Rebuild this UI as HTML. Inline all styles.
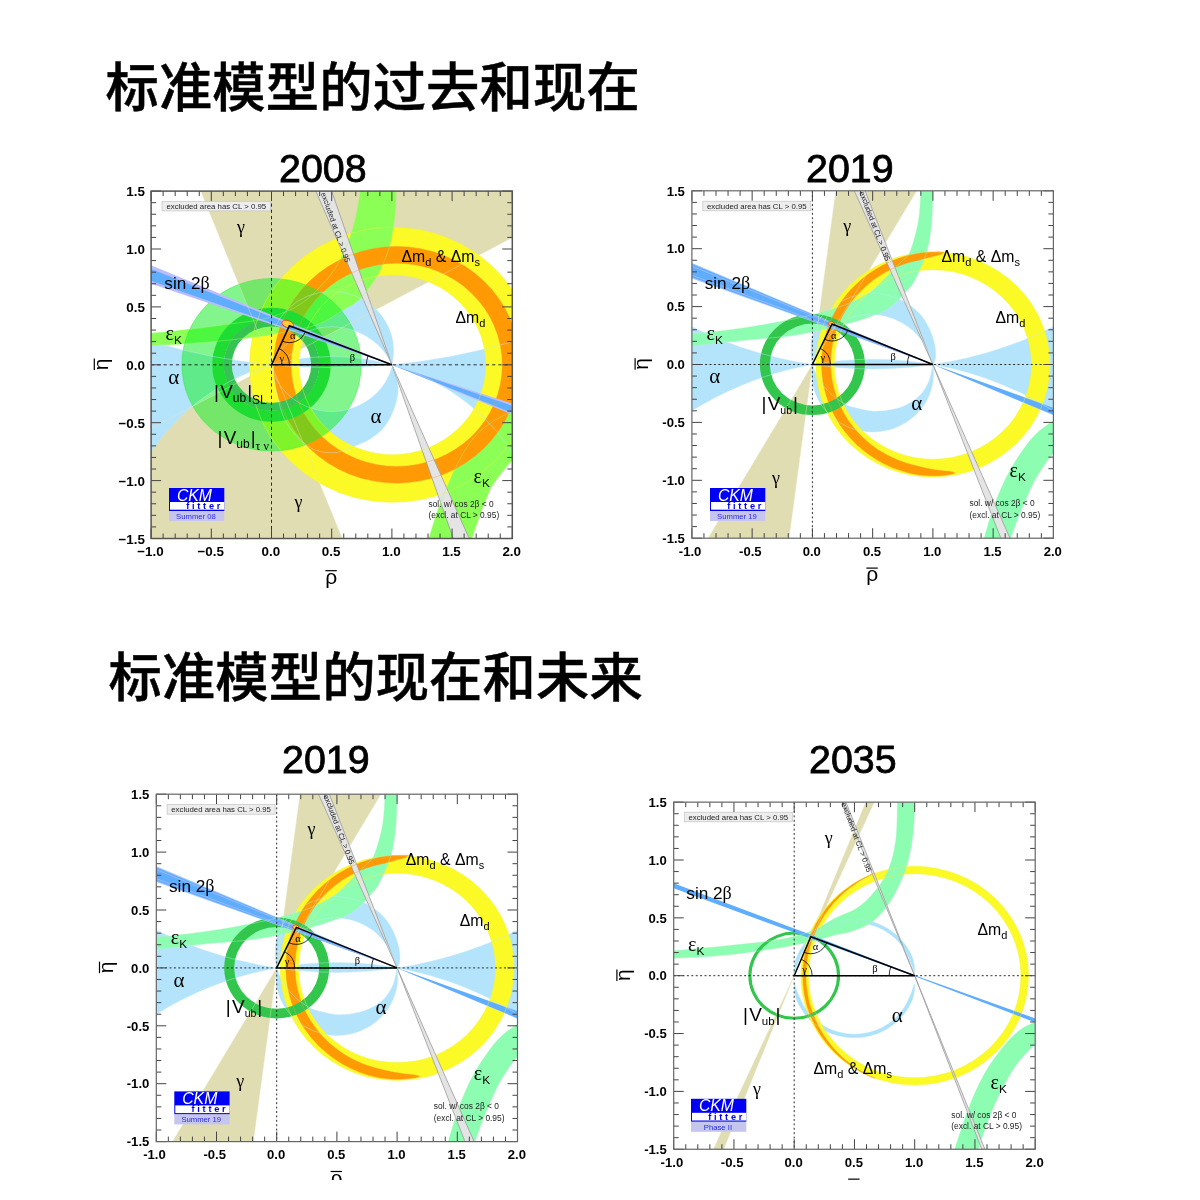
<!DOCTYPE html>
<html lang="zh-CN">
<head>
<meta charset="utf-8">
<title>标准模型的过去和现在</title>
<style>
html,body{margin:0;padding:0;background:#fff;}
body{width:1200px;height:1200px;position:relative;overflow:hidden;font-family:"Liberation Sans", "Noto Sans CJK SC", sans-serif;}
h1{position:absolute;margin:0;font-family:"Liberation Sans", "Noto Sans CJK SC", sans-serif;font-weight:500;font-size:53.3px;line-height:1;color:#000;white-space:nowrap;letter-spacing:0.14px;-webkit-text-stroke:0.5px #000;}
.yr{position:absolute;margin:0;font-family:"Liberation Sans", "Noto Sans CJK SC", sans-serif;font-weight:400;font-size:39.4px;line-height:1;color:#000;white-space:nowrap;-webkit-text-stroke:0.8px #000;}
#clip{position:absolute;left:0;top:0;width:1200px;height:1180px;overflow:hidden;}
svg{position:absolute;left:0;top:0;}
svg{font-family:"Liberation Sans", "Noto Sans CJK SC", sans-serif;fill:#000;}
</style>
</head>
<body>
<div id="clip">
<h1 style="left:105.5px;top:61.5px;">标准模型的过去和现在</h1>
<h1 style="left:108.5px;top:652px;">标准模型的现在和未来</h1>
<div class="yr" style="left:279px;top:148.5px;">2008</div>
<div class="yr" style="left:806px;top:149px;">2019</div>
<div class="yr" style="left:282px;top:740px;">2019</div>
<div class="yr" style="left:809px;top:740px;">2035</div>
<svg width="1200" height="1180" viewBox="0 0 1200 1180">

<g id="p1">
<clipPath id="p1f"><rect x="-1" y="-1.5" width="3" height="3"/></clipPath>
<clipPath id="p1u"><rect x="-1" y="0" width="3" height="1.5"/></clipPath>
<clipPath id="p1d"><rect x="-1" y="-1.5" width="3" height="1.5"/></clipPath>
<g transform="translate(271.5,364.8) scale(120.4,-115.8)" clip-path="url(#p1f)">
<path d="M0,0L-0.704,1.8L3.276,1.8Z" fill="#e0ddb3"/>
<path d="M0,0L0.704,-1.8L-3.276,-1.8Z" fill="#e0ddb3"/>
<path d="M-1.2,-1.7H2.2V1.7H-1.2ZM-1.275,-1.703a1.775,1.775 0 1,0 3.55,0a1.775,1.775 0 1,0 -3.55,0ZM-4.624,5.1a5.124,5.124 0 1,0 10.249,0a5.124,5.124 0 1,0 -10.249,0Z" fill="#b4e4fb" fill-rule="evenodd"/>
<g clip-path="url(#p1u)"><path d="M-0.014,0.12a0.514,0.514 0 1,0 1.028,0a0.514,0.514 0 1,0 -1.028,0ZM-0.044,-0.215a0.544,0.544 0 1,0 1.089,0a0.544,0.544 0 1,0 -1.089,0Z" fill="#b4e4fb" fill-rule="evenodd"/></g>
<g clip-path="url(#p1d)"><path d="M1,0C1.006,-0.015 1.026,-0.054 1.035,-0.09C1.043,-0.126 1.051,-0.179 1.051,-0.218C1.051,-0.257 1.042,-0.294 1.034,-0.326C1.026,-0.358 1.017,-0.383 1.005,-0.412C0.993,-0.441 0.98,-0.471 0.963,-0.498C0.946,-0.525 0.925,-0.552 0.901,-0.576C0.877,-0.6 0.846,-0.623 0.818,-0.641C0.79,-0.659 0.763,-0.671 0.735,-0.684C0.707,-0.697 0.689,-0.707 0.65,-0.72C0.611,-0.733 0.558,-0.763 0.5,-0.76C0.442,-0.757 0.367,-0.752 0.3,-0.7C0.233,-0.648 0.15,-0.567 0.1,-0.45C0.05,-0.333 0.017,-0.075 0,0ZM-0.019,0.138a0.519,0.519 0 1,0 1.037,0a0.519,0.519 0 1,0 -1.037,0Z" fill="#b4e4fb" fill-rule="evenodd"/></g>
<path d="M-0.183,0a1.188,1.188 0 1,0 2.376,0a1.188,1.188 0 1,0 -2.376,0ZM0.229,0a0.776,0.776 0 1,0 1.552,0a0.776,0.776 0 1,0 -1.552,0Z" fill="#fbfa26" fill-rule="evenodd"/>
<path d="M-1.15,0.258C-1.125,0.26 -1.079,0.264 -1,0.272C-0.921,0.28 -0.786,0.293 -0.677,0.306C-0.568,0.319 -0.456,0.335 -0.345,0.352C-0.234,0.369 -0.111,0.38 -0.012,0.41C0.087,0.44 0.172,0.476 0.25,0.53C0.328,0.584 0.402,0.669 0.455,0.732C0.508,0.794 0.534,0.838 0.569,0.905C0.603,0.972 0.638,1.058 0.662,1.132C0.686,1.206 0.702,1.287 0.714,1.348C0.726,1.409 0.73,1.45 0.735,1.5C0.74,1.55 0.743,1.625 0.745,1.65L1.04,1.65C1.039,1.625 1.038,1.559 1.036,1.5C1.034,1.441 1.035,1.372 1.026,1.294C1.017,1.216 1.001,1.107 0.984,1.035C0.967,0.963 0.941,0.909 0.922,0.862C0.903,0.815 0.901,0.803 0.87,0.754C0.839,0.705 0.781,0.615 0.735,0.568C0.689,0.521 0.655,0.51 0.594,0.473C0.533,0.436 0.471,0.379 0.37,0.344C0.269,0.308 0.107,0.282 -0.012,0.26C-0.131,0.238 -0.234,0.227 -0.345,0.214C-0.456,0.201 -0.568,0.193 -0.677,0.185C-0.786,0.177 -0.921,0.172 -1,0.168C-1.079,0.164 -1.125,0.161 -1.15,0.16Z" fill="#8bff55"/>
<path d="M1.26,-1.65C1.268,-1.625 1.288,-1.559 1.306,-1.5C1.324,-1.441 1.349,-1.356 1.368,-1.297C1.387,-1.238 1.401,-1.196 1.42,-1.146C1.439,-1.096 1.466,-1.036 1.483,-0.995C1.5,-0.954 1.503,-0.941 1.524,-0.898C1.545,-0.855 1.576,-0.786 1.607,-0.736C1.638,-0.685 1.669,-0.638 1.711,-0.595C1.753,-0.552 1.809,-0.507 1.856,-0.477C1.903,-0.447 1.942,-0.431 1.991,-0.412C2.04,-0.392 2.123,-0.369 2.15,-0.36L2.15,-0.66C2.125,-0.687 2.042,-0.773 2,-0.822C1.958,-0.871 1.929,-0.909 1.898,-0.952C1.867,-0.995 1.843,-1.023 1.815,-1.081C1.787,-1.139 1.757,-1.227 1.732,-1.297C1.707,-1.367 1.683,-1.441 1.664,-1.5C1.645,-1.559 1.627,-1.625 1.62,-1.65Z" fill="#8bff55"/>
<path d="M0.018,0a1.022,1.022 0 1,0 2.044,0a1.022,1.022 0 1,0 -2.044,0ZM0.163,0a0.877,0.877 0 1,0 1.754,0a0.877,0.877 0 1,0 -1.754,0Z" fill="#ff9a05" fill-rule="evenodd"/>
<path d="M-0.745,0a0.745,0.745 0 1,0 1.49,0a0.745,0.745 0 1,0 -1.49,0ZM-0.49,0a0.49,0.49 0 1,0 0.98,0a0.49,0.49 0 1,0 -0.98,0Z" fill="#1cee2e" fill-rule="evenodd" fill-opacity="0.55" stroke="#2ceb3c" stroke-width="0.6" stroke-opacity="0.8" vector-effect="non-scaling-stroke"/>
<path d="M-0.492,0a0.492,0.492 0 1,0 0.984,0a0.492,0.492 0 1,0 -0.984,0ZM-0.395,0a0.395,0.395 0 1,0 0.79,0a0.395,0.395 0 1,0 -0.79,0Z" fill="#1fdc33" fill-rule="evenodd"/>
<path d="M-0.397,0a0.397,0.397 0 1,0 0.794,0a0.397,0.397 0 1,0 -0.794,0ZM-0.33,0a0.33,0.33 0 1,0 0.66,0a0.33,0.33 0 1,0 -0.66,0Z" fill="#35c451" fill-rule="evenodd"/>
<path d="M1,0L-1.2,0.945L-1.2,0.77Z" fill="#b9bcff"/>
<path d="M1,0L-1.2,0.91L-1.2,0.797Z" fill="#5fadff"/>
<path d="M1,0L2.2,-0.518L2.2,-0.402Z" fill="#b9bcff"/>
<path d="M1,0L2.2,-0.498L2.2,-0.426Z" fill="#5fadff"/>
<path d="M1,0L0.305,1.65L0.45,1.65ZM1,0L1.561,-1.65L1.706,-1.65Z" fill="#e4e4e4" stroke="#9a9a9a" stroke-width="0.8" vector-effect="non-scaling-stroke"/>
<ellipse cx="0.135" cy="0.352" rx="0.05" ry="0.03" transform="rotate(-20 0.135 0.352)" fill="#ffcf30" stroke="#f03a20" stroke-width="0.9" vector-effect="non-scaling-stroke"/>
<path d="M0,0L-0.704,1.8L3.276,1.8Z" fill="none" stroke="#e8e5bf" stroke-width="0.5" stroke-opacity="0.85" vector-effect="non-scaling-stroke"/>
<path d="M0,0L0.704,-1.8L-3.276,-1.8Z" fill="none" stroke="#e8e5bf" stroke-width="0.5" stroke-opacity="0.85" vector-effect="non-scaling-stroke"/>
<path d="M-1.2,-1.7H2.2V1.7H-1.2ZM-1.275,-1.703a1.775,1.775 0 1,0 3.55,0a1.775,1.775 0 1,0 -3.55,0ZM-4.624,5.1a5.124,5.124 0 1,0 10.249,0a5.124,5.124 0 1,0 -10.249,0Z" fill="none" stroke="#bfe9fc" stroke-width="0.5" stroke-opacity="0.85" vector-effect="non-scaling-stroke" fill-rule="evenodd"/>
<g clip-path="url(#p1u)"><path d="M-0.014,0.12a0.514,0.514 0 1,0 1.028,0a0.514,0.514 0 1,0 -1.028,0ZM-0.044,-0.215a0.544,0.544 0 1,0 1.089,0a0.544,0.544 0 1,0 -1.089,0Z" fill="none" stroke="#bfe9fc" stroke-width="0.5" stroke-opacity="0.85" vector-effect="non-scaling-stroke" fill-rule="evenodd"/></g>
<g clip-path="url(#p1d)"><path d="M1,0C1.006,-0.015 1.026,-0.054 1.035,-0.09C1.043,-0.126 1.051,-0.179 1.051,-0.218C1.051,-0.257 1.042,-0.294 1.034,-0.326C1.026,-0.358 1.017,-0.383 1.005,-0.412C0.993,-0.441 0.98,-0.471 0.963,-0.498C0.946,-0.525 0.925,-0.552 0.901,-0.576C0.877,-0.6 0.846,-0.623 0.818,-0.641C0.79,-0.659 0.763,-0.671 0.735,-0.684C0.707,-0.697 0.689,-0.707 0.65,-0.72C0.611,-0.733 0.558,-0.763 0.5,-0.76C0.442,-0.757 0.367,-0.752 0.3,-0.7C0.233,-0.648 0.15,-0.567 0.1,-0.45C0.05,-0.333 0.017,-0.075 0,0ZM-0.019,0.138a0.519,0.519 0 1,0 1.037,0a0.519,0.519 0 1,0 -1.037,0Z" fill="none" stroke="#bfe9fc" stroke-width="0.5" stroke-opacity="0.85" vector-effect="non-scaling-stroke" fill-rule="evenodd"/></g>
<path d="M-0.183,0a1.188,1.188 0 1,0 2.376,0a1.188,1.188 0 1,0 -2.376,0ZM0.229,0a0.776,0.776 0 1,0 1.552,0a0.776,0.776 0 1,0 -1.552,0Z" fill="none" stroke="#f4f43c" stroke-width="0.5" stroke-opacity="0.85" vector-effect="non-scaling-stroke" fill-rule="evenodd"/>
<path d="M-1.15,0.258C-1.125,0.26 -1.079,0.264 -1,0.272C-0.921,0.28 -0.786,0.293 -0.677,0.306C-0.568,0.319 -0.456,0.335 -0.345,0.352C-0.234,0.369 -0.111,0.38 -0.012,0.41C0.087,0.44 0.172,0.476 0.25,0.53C0.328,0.584 0.402,0.669 0.455,0.732C0.508,0.794 0.534,0.838 0.569,0.905C0.603,0.972 0.638,1.058 0.662,1.132C0.686,1.206 0.702,1.287 0.714,1.348C0.726,1.409 0.73,1.45 0.735,1.5C0.74,1.55 0.743,1.625 0.745,1.65L1.04,1.65C1.039,1.625 1.038,1.559 1.036,1.5C1.034,1.441 1.035,1.372 1.026,1.294C1.017,1.216 1.001,1.107 0.984,1.035C0.967,0.963 0.941,0.909 0.922,0.862C0.903,0.815 0.901,0.803 0.87,0.754C0.839,0.705 0.781,0.615 0.735,0.568C0.689,0.521 0.655,0.51 0.594,0.473C0.533,0.436 0.471,0.379 0.37,0.344C0.269,0.308 0.107,0.282 -0.012,0.26C-0.131,0.238 -0.234,0.227 -0.345,0.214C-0.456,0.201 -0.568,0.193 -0.677,0.185C-0.786,0.177 -0.921,0.172 -1,0.168C-1.079,0.164 -1.125,0.161 -1.15,0.16Z" fill="none" stroke="#a4f76e" stroke-width="0.5" stroke-opacity="0.85" vector-effect="non-scaling-stroke"/>
<path d="M1.26,-1.65C1.268,-1.625 1.288,-1.559 1.306,-1.5C1.324,-1.441 1.349,-1.356 1.368,-1.297C1.387,-1.238 1.401,-1.196 1.42,-1.146C1.439,-1.096 1.466,-1.036 1.483,-0.995C1.5,-0.954 1.503,-0.941 1.524,-0.898C1.545,-0.855 1.576,-0.786 1.607,-0.736C1.638,-0.685 1.669,-0.638 1.711,-0.595C1.753,-0.552 1.809,-0.507 1.856,-0.477C1.903,-0.447 1.942,-0.431 1.991,-0.412C2.04,-0.392 2.123,-0.369 2.15,-0.36L2.15,-0.66C2.125,-0.687 2.042,-0.773 2,-0.822C1.958,-0.871 1.929,-0.909 1.898,-0.952C1.867,-0.995 1.843,-1.023 1.815,-1.081C1.787,-1.139 1.757,-1.227 1.732,-1.297C1.707,-1.367 1.683,-1.441 1.664,-1.5C1.645,-1.559 1.627,-1.625 1.62,-1.65Z" fill="none" stroke="#a4f76e" stroke-width="0.5" stroke-opacity="0.85" vector-effect="non-scaling-stroke"/>
<path d="M0.018,0a1.022,1.022 0 1,0 2.044,0a1.022,1.022 0 1,0 -2.044,0ZM0.163,0a0.877,0.877 0 1,0 1.754,0a0.877,0.877 0 1,0 -1.754,0Z" fill="none" stroke="#f5a032" stroke-width="0.5" stroke-opacity="0.85" vector-effect="non-scaling-stroke" fill-rule="evenodd"/>
</g>
<path d="M151.1,364.8H512.3M271.5,191.1V538.5" stroke="#1a1a1a" stroke-width="0.9" stroke-dasharray="3.2,3" fill="none"/>
<path d="M271.5,364.8L289.44,325.66L391.9,364.8Z" fill="none" stroke="#000" stroke-width="1.6" stroke-linejoin="miter"/>
<path d="M289.5,364.8A18,18 0 0,0 279,348.437" fill="none" stroke="#000" stroke-width="0.8"/>
<path d="M366.4,364.8A25.5,25.5 0 0,1 368.079,355.7" fill="none" stroke="#000" stroke-width="0.8"/>
<path d="M282.356,341.114A17,17 0 0,0 305.32,331.726" fill="none" stroke="#000" stroke-width="0.8"/>
<path d="M151.1,538.5v-10M151.1,191.1v10M163.14,538.5v-5M163.14,191.1v5M175.18,538.5v-5M175.18,191.1v5M187.22,538.5v-5M187.22,191.1v5M199.26,538.5v-5M199.26,191.1v5M211.3,538.5v-10M211.3,191.1v10M223.34,538.5v-5M223.34,191.1v5M235.38,538.5v-5M235.38,191.1v5M247.42,538.5v-5M247.42,191.1v5M259.46,538.5v-5M259.46,191.1v5M271.5,538.5v-10M271.5,191.1v10M283.54,538.5v-5M283.54,191.1v5M295.58,538.5v-5M295.58,191.1v5M307.62,538.5v-5M307.62,191.1v5M319.66,538.5v-5M319.66,191.1v5M331.7,538.5v-10M331.7,191.1v10M343.74,538.5v-5M343.74,191.1v5M355.78,538.5v-5M355.78,191.1v5M367.82,538.5v-5M367.82,191.1v5M379.86,538.5v-5M379.86,191.1v5M391.9,538.5v-10M391.9,191.1v10M403.94,538.5v-5M403.94,191.1v5M415.98,538.5v-5M415.98,191.1v5M428.02,538.5v-5M428.02,191.1v5M440.06,538.5v-5M440.06,191.1v5M452.1,538.5v-10M452.1,191.1v10M464.14,538.5v-5M464.14,191.1v5M476.18,538.5v-5M476.18,191.1v5M488.22,538.5v-5M488.22,191.1v5M500.26,538.5v-5M500.26,191.1v5M512.3,538.5v-10M512.3,191.1v10M151.1,538.5h10M512.3,538.5h-10M151.1,526.92h5M512.3,526.92h-5M151.1,515.34h5M512.3,515.34h-5M151.1,503.76h5M512.3,503.76h-5M151.1,492.18h5M512.3,492.18h-5M151.1,480.6h10M512.3,480.6h-10M151.1,469.02h5M512.3,469.02h-5M151.1,457.44h5M512.3,457.44h-5M151.1,445.86h5M512.3,445.86h-5M151.1,434.28h5M512.3,434.28h-5M151.1,422.7h10M512.3,422.7h-10M151.1,411.12h5M512.3,411.12h-5M151.1,399.54h5M512.3,399.54h-5M151.1,387.96h5M512.3,387.96h-5M151.1,376.38h5M512.3,376.38h-5M151.1,364.8h10M512.3,364.8h-10M151.1,353.22h5M512.3,353.22h-5M151.1,341.64h5M512.3,341.64h-5M151.1,330.06h5M512.3,330.06h-5M151.1,318.48h5M512.3,318.48h-5M151.1,306.9h10M512.3,306.9h-10M151.1,295.32h5M512.3,295.32h-5M151.1,283.74h5M512.3,283.74h-5M151.1,272.16h5M512.3,272.16h-5M151.1,260.58h5M512.3,260.58h-5M151.1,249h10M512.3,249h-10M151.1,237.42h5M512.3,237.42h-5M151.1,225.84h5M512.3,225.84h-5M151.1,214.26h5M512.3,214.26h-5M151.1,202.68h5M512.3,202.68h-5M151.1,191.1h10M512.3,191.1h-10" stroke="#444" stroke-width="1" fill="none"/>
<rect x="151.1" y="191.1" width="361.2" height="347.4" fill="none" stroke="#555" stroke-width="1.5"/>
<text x="150.5" y="556.1" font-size="13.4" text-anchor="middle" font-weight="bold">−1.0</text>
<text x="210.7" y="556.1" font-size="13.4" text-anchor="middle" font-weight="bold">−0.5</text>
<text x="270.9" y="556.1" font-size="13.4" text-anchor="middle" font-weight="bold">0.0</text>
<text x="331.1" y="556.1" font-size="13.4" text-anchor="middle" font-weight="bold">0.5</text>
<text x="391.3" y="556.1" font-size="13.4" text-anchor="middle" font-weight="bold">1.0</text>
<text x="451.5" y="556.1" font-size="13.4" text-anchor="middle" font-weight="bold">1.5</text>
<text x="511.7" y="556.1" font-size="13.4" text-anchor="middle" font-weight="bold">2.0</text>
<text x="144.9" y="543.5" font-size="13.4" text-anchor="end" font-weight="bold">−1.5</text>
<text x="144.9" y="485.6" font-size="13.4" text-anchor="end" font-weight="bold">−1.0</text>
<text x="144.9" y="427.7" font-size="13.4" text-anchor="end" font-weight="bold">−0.5</text>
<text x="144.9" y="369.8" font-size="13.4" text-anchor="end" font-weight="bold">0.0</text>
<text x="144.9" y="311.9" font-size="13.4" text-anchor="end" font-weight="bold">0.5</text>
<text x="144.9" y="254" font-size="13.4" text-anchor="end" font-weight="bold">1.0</text>
<text x="144.9" y="196.1" font-size="13.4" text-anchor="end" font-weight="bold">1.5</text>
<g transform="translate(107.5,364.3) rotate(-90)"><text x="0" y="0" font-size="21" text-anchor="middle">η</text><path d="M-5.8,-13.2h11.6" stroke="#000" stroke-width="1.2"/></g>
<text x="331.3" y="583.8" font-size="21" text-anchor="middle">ρ</text>
<path d="M325.4,570.7h11.4" stroke="#000" stroke-width="1.2"/>
<rect x="162" y="201.3" width="108.5" height="9.6" fill="#ededed" stroke="#c4c4c4" stroke-width="0.7"/><text x="216.25" y="208.8" font-size="7.8" text-anchor="middle" fill="#222">excluded area has CL &gt; 0.95</text>
<g transform="translate(320.8,193.5) rotate(70.5)"><text x="0" y="0" font-size="7.6" fill="#222">excluded at CL &gt; 0.95</text></g>
<text x="241" y="233" font-size="18" font-family='"Liberation Serif", "Noto Serif CJK SC", serif' text-anchor="middle">γ</text>
<text x="164.3" y="289" font-size="17.2">sin 2<tspan font-family='"Liberation Serif", "Noto Serif CJK SC", serif' font-size="18">β</tspan></text>
<text x="165.5" y="340.2" font-size="16"><tspan font-family='"Liberation Serif", "Noto Serif CJK SC", serif' font-size="20">ε</tspan><tspan font-size="11.8" dy="4">K</tspan><tspan dy="-4" font-size="1">&#8203;</tspan></text>
<text x="173.7" y="384.3" font-size="21" font-family='"Liberation Serif", "Noto Serif CJK SC", serif' text-anchor="middle">α</text>
<text x="214" y="398" font-size="19">|<tspan dx="1.2">V</tspan><tspan font-size="12" dy="4">ub</tspan><tspan dy="-4" font-size="1">&#8203;</tspan><tspan dx="1">|</tspan><tspan font-size="12" dy="6">SL</tspan><tspan dy="-6" font-size="1">&#8203;</tspan></text>
<text x="217.5" y="444" font-size="19">|<tspan dx="1.2">V</tspan><tspan font-size="12" dy="4">ub</tspan><tspan dy="-4" font-size="1">&#8203;</tspan><tspan dx="1">|</tspan><tspan font-size="12" dy="6"><tspan font-family='"Liberation Serif", "Noto Serif CJK SC", serif'>τ ν</tspan></tspan><tspan dy="-6" font-size="1">&#8203;</tspan></text>
<text x="375.9" y="422.6" font-size="21" font-family='"Liberation Serif", "Noto Serif CJK SC", serif' text-anchor="middle">α</text>
<text x="298.5" y="508" font-size="18" font-family='"Liberation Serif", "Noto Serif CJK SC", serif' text-anchor="middle">γ</text>
<text x="473.5" y="482.5" font-size="16"><tspan font-family='"Liberation Serif", "Noto Serif CJK SC", serif' font-size="20">ε</tspan><tspan font-size="11.8" dy="4">K</tspan><tspan dy="-4" font-size="1">&#8203;</tspan></text>
<text x="401.5" y="262" font-size="15.8">Δm<tspan font-size="11" dy="4">d</tspan><tspan dy="-4" font-size="1">&#8203;</tspan> &amp; Δm<tspan font-size="11" dy="4">s</tspan><tspan dy="-4" font-size="1">&#8203;</tspan></text>
<text x="455.5" y="322.5" font-size="15.8">Δm<tspan font-size="11" dy="4">d</tspan><tspan dy="-4" font-size="1">&#8203;</tspan></text>
<text x="428.5" y="506.5" font-size="8.4" fill="#222">sol. w/ cos 2β &lt; 0</text><text x="428.5" y="518.3" font-size="8.4" fill="#222">(excl. at CL &gt; 0.95)</text>
<g transform="translate(169,488)">
<rect x="0" y="0" width="55.3" height="23" fill="#0000f5"/>
<rect x="1" y="14" width="54.3" height="7.7" fill="#fff"/>
<rect x="0" y="23" width="55.3" height="10" fill="#c5c5ee"/>
<text x="25.45" y="12.5" font-size="15.8" text-anchor="middle" font-style="italic" fill="#fff">CKM</text>
<text x="17.2" y="21.1" font-size="9.2" font-weight="bold" fill="#0000f5" letter-spacing="2.75">fitter</text>
<text x="26.95" y="31.1" font-size="7.7" text-anchor="middle" fill="#2a2af0">Summer 08</text>
</g>
<text x="281.8" y="361.6" font-size="10.5" font-family='"Liberation Serif", "Noto Serif CJK SC", serif' text-anchor="middle">γ</text>
<text x="292.8" y="339.1" font-size="10.5" font-family='"Liberation Serif", "Noto Serif CJK SC", serif' text-anchor="middle">α</text>
<text x="352.3" y="360.6" font-size="10.5" font-family='"Liberation Serif", "Noto Serif CJK SC", serif' text-anchor="middle">β</text>
</g>
<g id="p2">
<clipPath id="p2f"><rect x="-1" y="-1.5" width="3" height="3"/></clipPath>
<clipPath id="p2u"><rect x="-1" y="0" width="3" height="1.5"/></clipPath>
<clipPath id="p2d"><rect x="-1" y="-1.5" width="3" height="1.5"/></clipPath>
<g transform="translate(812.4,364.5) scale(120.5,-115.8)" clip-path="url(#p2f)">
<path d="M0,0L0.233,1.8L1.038,1.8Z" fill="#e0ddb3"/>
<path d="M0,0L-0.233,-1.8L-1.038,-1.8Z" fill="#e0ddb3"/>
<path d="M-1.2,-1.7H2.2V1.7H-1.2ZM-2.246,-2.7a2.746,2.746 0 1,0 5.492,0a2.746,2.746 0 1,0 -5.492,0ZM-2.769,3.23a3.269,3.269 0 1,0 6.538,0a3.269,3.269 0 1,0 -6.538,0Z" fill="#b4e4fb" fill-rule="evenodd"/>
<g clip-path="url(#p2u)"><path d="M0,0C-0.002,0.017 -0.012,0.058 -0.012,0.1C-0.012,0.142 -0.015,0.197 0,0.25C0.015,0.303 0.038,0.37 0.08,0.42C0.122,0.47 0.197,0.519 0.25,0.55C0.303,0.581 0.355,0.594 0.4,0.605C0.445,0.616 0.473,0.619 0.52,0.615C0.568,0.611 0.639,0.595 0.685,0.579C0.731,0.563 0.76,0.546 0.796,0.521C0.832,0.496 0.871,0.462 0.9,0.427C0.929,0.392 0.951,0.351 0.969,0.312C0.987,0.273 1.002,0.228 1.011,0.19C1.02,0.152 1.024,0.11 1.024,0.082C1.024,0.054 1.016,0.034 1.012,0.02C1.008,0.006 1.002,0.003 1,0ZM0,0C0.005,0.017 0.013,0.063 0.03,0.1C0.047,0.137 0.072,0.182 0.1,0.22C0.128,0.258 0.165,0.3 0.2,0.33C0.235,0.36 0.276,0.383 0.312,0.399C0.348,0.415 0.381,0.422 0.416,0.427C0.451,0.432 0.486,0.433 0.52,0.431C0.554,0.429 0.589,0.423 0.623,0.413C0.657,0.403 0.692,0.389 0.727,0.37C0.762,0.351 0.8,0.327 0.831,0.298C0.862,0.269 0.891,0.231 0.914,0.197C0.937,0.164 0.955,0.13 0.969,0.097C0.983,0.064 0.995,0.016 1,0Z" fill="#b4e4fb" fill-rule="evenodd"/></g>
<g clip-path="url(#p2d)"><path d="M-0.006,-0.077a0.506,0.506 0 1,0 1.012,0a0.506,0.506 0 1,0 -1.012,0ZM1,0C0.998,-0.013 0.992,-0.053 0.985,-0.08C0.978,-0.107 0.974,-0.132 0.959,-0.163C0.944,-0.194 0.922,-0.235 0.893,-0.266C0.864,-0.297 0.819,-0.327 0.782,-0.347C0.745,-0.367 0.717,-0.378 0.671,-0.387C0.625,-0.397 0.56,-0.407 0.505,-0.404C0.45,-0.401 0.38,-0.381 0.339,-0.37C0.299,-0.359 0.294,-0.356 0.262,-0.336C0.231,-0.316 0.185,-0.286 0.15,-0.25C0.115,-0.214 0.075,-0.162 0.05,-0.12C0.025,-0.078 0.008,-0.02 0,0Z" fill="#b4e4fb" fill-rule="evenodd"/></g>
<path d="M0.028,0a0.972,0.972 0 1,0 1.944,0a0.972,0.972 0 1,0 -1.944,0ZM0.182,0a0.818,0.818 0 1,0 1.636,0a0.818,0.818 0 1,0 -1.636,0Z" fill="#fbfa26" fill-rule="evenodd"/>
<path d="M-1.15,0.245C-1.125,0.248 -1.101,0.249 -1,0.262C-0.899,0.275 -0.69,0.297 -0.545,0.32C-0.4,0.343 -0.251,0.372 -0.13,0.399C-0.009,0.426 0.099,0.456 0.179,0.482C0.259,0.507 0.301,0.529 0.35,0.552C0.399,0.575 0.437,0.595 0.472,0.62C0.507,0.645 0.53,0.67 0.56,0.7C0.591,0.73 0.625,0.768 0.655,0.8C0.685,0.832 0.714,0.861 0.74,0.89C0.766,0.919 0.787,0.917 0.81,0.974C0.833,1.031 0.864,1.145 0.879,1.233C0.894,1.321 0.896,1.431 0.9,1.5C0.904,1.569 0.904,1.625 0.905,1.65L1.003,1.65C1.002,1.625 1.002,1.569 1,1.5C0.998,1.431 0.998,1.321 0.99,1.233C0.982,1.145 0.972,1.058 0.949,0.974C0.926,0.89 0.878,0.785 0.851,0.73C0.824,0.675 0.806,0.667 0.788,0.643C0.77,0.619 0.763,0.609 0.741,0.586C0.719,0.563 0.683,0.527 0.655,0.505C0.627,0.483 0.604,0.467 0.575,0.452C0.545,0.437 0.524,0.429 0.478,0.413C0.432,0.397 0.402,0.382 0.301,0.356C0.2,0.33 0.011,0.279 -0.13,0.255C-0.271,0.231 -0.4,0.228 -0.545,0.212C-0.69,0.196 -0.899,0.172 -1,0.161C-1.101,0.15 -1.125,0.15 -1.15,0.148Z" fill="#8dfdb2"/>
<path d="M1.39,-1.65C1.396,-1.625 1.407,-1.568 1.426,-1.5C1.444,-1.432 1.472,-1.326 1.501,-1.242C1.53,-1.158 1.563,-1.071 1.598,-0.997C1.633,-0.923 1.667,-0.861 1.709,-0.796C1.751,-0.731 1.798,-0.661 1.847,-0.609C1.895,-0.557 1.95,-0.521 2,-0.486C2.05,-0.451 2.125,-0.414 2.15,-0.4L2.15,-0.6C2.125,-0.628 2.039,-0.72 2,-0.767C1.961,-0.814 1.944,-0.839 1.916,-0.882C1.888,-0.925 1.865,-0.959 1.833,-1.026C1.801,-1.093 1.754,-1.206 1.723,-1.285C1.692,-1.364 1.666,-1.439 1.647,-1.5C1.628,-1.561 1.616,-1.625 1.61,-1.65Z" fill="#8dfdb2"/>
<path d="M1.095,0.97L1.069,0.972L1.042,0.973L1.015,0.972L0.988,0.971L0.961,0.97L0.935,0.967L0.908,0.964L0.882,0.96L0.855,0.955L0.829,0.949L0.803,0.943L0.777,0.936L0.751,0.928L0.726,0.919L0.7,0.91L0.675,0.9L0.651,0.889L0.626,0.878L0.602,0.866L0.579,0.854L0.555,0.84L0.532,0.826L0.51,0.812L0.487,0.796L0.466,0.781L0.444,0.764L0.423,0.747L0.403,0.73L0.383,0.711L0.364,0.693L0.345,0.674L0.326,0.654L0.309,0.634L0.291,0.613L0.275,0.592L0.259,0.57L0.243,0.548L0.228,0.525L0.214,0.502L0.201,0.479L0.188,0.455L0.176,0.431L0.164,0.407L0.153,0.382L0.143,0.357L0.133,0.332L0.125,0.306L0.117,0.281L0.109,0.255L0.103,0.228L0.097,0.202L0.091,0.176L0.087,0.149L0.083,0.122L0.08,0.095L0.078,0.068L0.077,0.041L0.076,0.014L0.076,-0.013L0.077,-0.04L0.079,-0.067L0.081,-0.094L0.084,-0.121L0.088,-0.147L0.092,-0.174L0.098,-0.201L0.104,-0.227L0.11,-0.253L0.118,-0.279L0.126,-0.305L0.135,-0.331L0.145,-0.356L0.155,-0.381L0.166,-0.406L0.178,-0.43L0.19,-0.454L0.203,-0.478L0.217,-0.501L0.231,-0.524L0.247,-0.547L0.262,-0.569L0.278,-0.59L0.295,-0.612L0.313,-0.632L0.331,-0.653L0.349,-0.672L0.368,-0.692L0.388,-0.71L0.408,-0.728L0.429,-0.746L0.45,-0.763L0.472,-0.779L0.494,-0.795L0.516,-0.81L0.539,-0.825L0.562,-0.838L0.586,-0.852L0.61,-0.864L0.634,-0.876L0.659,-0.887L0.684,-0.898L0.709,-0.907L0.735,-0.916L0.761,-0.925L0.787,-0.932L0.813,-0.939L0.839,-0.945L0.866,-0.95L0.893,-0.954L0.919,-0.957L0.946,-0.959L0.973,-0.961L1,-0.961L1.027,-0.961L1.054,-0.96L1.081,-0.958L1.108,-0.955L1.134,-0.951L1.16,-0.946L1.186,-0.936L1.186,-0.936L1.158,-0.926L1.132,-0.922L1.106,-0.92L1.08,-0.917L1.054,-0.914L1.028,-0.91L1.003,-0.906L0.978,-0.902L0.953,-0.897L0.928,-0.891L0.904,-0.885L0.88,-0.879L0.855,-0.872L0.831,-0.866L0.807,-0.86L0.783,-0.852L0.759,-0.844L0.736,-0.836L0.713,-0.827L0.69,-0.817L0.667,-0.806L0.645,-0.795L0.623,-0.784L0.601,-0.771L0.58,-0.758L0.559,-0.745L0.538,-0.731L0.518,-0.716L0.498,-0.701L0.479,-0.686L0.46,-0.669L0.441,-0.653L0.423,-0.635L0.406,-0.618L0.389,-0.6L0.372,-0.581L0.356,-0.562L0.341,-0.542L0.326,-0.522L0.311,-0.502L0.297,-0.481L0.284,-0.46L0.272,-0.439L0.259,-0.417L0.248,-0.395L0.237,-0.372L0.227,-0.35L0.217,-0.327L0.208,-0.303L0.2,-0.28L0.192,-0.256L0.185,-0.232L0.179,-0.208L0.173,-0.184L0.168,-0.16L0.164,-0.135L0.16,-0.111L0.157,-0.086L0.155,-0.061L0.153,-0.036L0.152,-0.011L0.152,0.014L0.152,0.039L0.154,0.064L0.155,0.088L0.158,0.113L0.161,0.138L0.165,0.163L0.169,0.187L0.175,0.212L0.18,0.236L0.187,0.26L0.194,0.284L0.202,0.308L0.21,0.331L0.22,0.354L0.229,0.377L0.24,0.4L0.251,0.423L0.263,0.445L0.275,0.466L0.288,0.488L0.301,0.509L0.315,0.53L0.33,0.55L0.345,0.57L0.361,0.59L0.377,0.609L0.394,0.627L0.411,0.645L0.429,0.663L0.447,0.68L0.466,0.697L0.485,0.713L0.505,0.729L0.525,0.744L0.545,0.758L0.566,0.772L0.588,0.785L0.609,0.798L0.631,0.81L0.654,0.822L0.676,0.833L0.699,0.843L0.723,0.853L0.746,0.862L0.77,0.87L0.794,0.878L0.818,0.885L0.843,0.891L0.867,0.897L0.892,0.902L0.916,0.91L0.941,0.917L0.966,0.924L0.991,0.931L1.016,0.938L1.042,0.944L1.068,0.952L1.095,0.97Z" fill="#ff9a05"/>
<path d="M-0.436,0a0.436,0.436 0 1,0 0.872,0a0.436,0.436 0 1,0 -0.872,0ZM-0.353,0a0.353,0.353 0 1,0 0.706,0a0.353,0.353 0 1,0 -0.706,0Z" fill="#33c64c" fill-rule="evenodd"/>
<path d="M1,0L-1.2,0.966L-1.2,0.816Z" fill="#a8ccff"/>
<path d="M1,0L2.2,-0.527L2.2,-0.445Z" fill="#a8ccff"/>
<path d="M1,0L-1.2,0.955L-1.2,0.827Z" fill="#5fadff"/>
<path d="M1,0L2.2,-0.521L2.2,-0.451Z" fill="#5fadff"/>
<path d="M1,0L-1.2,0.934M1,0L-1.2,0.848" fill="none" stroke="#c9c2ff" stroke-width="0.55" vector-effect="non-scaling-stroke"/>
<path d="M1,0L0.282,1.65L0.381,1.65ZM1,0L1.62,-1.65L1.704,-1.65Z" fill="#e4e4e4" stroke="#9a9a9a" stroke-width="0.8" vector-effect="non-scaling-stroke"/>
<ellipse cx="0.158" cy="0.352" rx="0.025" ry="0.02" fill="#ffcf30" stroke="#f03a20" stroke-width="0.9" vector-effect="non-scaling-stroke"/>
<path d="M0,0L0.233,1.8L1.038,1.8Z" fill="none" stroke="#e8e5bf" stroke-width="0.5" stroke-opacity="0.85" vector-effect="non-scaling-stroke"/>
<path d="M0,0L-0.233,-1.8L-1.038,-1.8Z" fill="none" stroke="#e8e5bf" stroke-width="0.5" stroke-opacity="0.85" vector-effect="non-scaling-stroke"/>
<path d="M-1.2,-1.7H2.2V1.7H-1.2ZM-2.246,-2.7a2.746,2.746 0 1,0 5.492,0a2.746,2.746 0 1,0 -5.492,0ZM-2.769,3.23a3.269,3.269 0 1,0 6.538,0a3.269,3.269 0 1,0 -6.538,0Z" fill="none" stroke="#bfe9fc" stroke-width="0.5" stroke-opacity="0.85" vector-effect="non-scaling-stroke" fill-rule="evenodd"/>
<g clip-path="url(#p2u)"><path d="M0,0C-0.002,0.017 -0.012,0.058 -0.012,0.1C-0.012,0.142 -0.015,0.197 0,0.25C0.015,0.303 0.038,0.37 0.08,0.42C0.122,0.47 0.197,0.519 0.25,0.55C0.303,0.581 0.355,0.594 0.4,0.605C0.445,0.616 0.473,0.619 0.52,0.615C0.568,0.611 0.639,0.595 0.685,0.579C0.731,0.563 0.76,0.546 0.796,0.521C0.832,0.496 0.871,0.462 0.9,0.427C0.929,0.392 0.951,0.351 0.969,0.312C0.987,0.273 1.002,0.228 1.011,0.19C1.02,0.152 1.024,0.11 1.024,0.082C1.024,0.054 1.016,0.034 1.012,0.02C1.008,0.006 1.002,0.003 1,0ZM0,0C0.005,0.017 0.013,0.063 0.03,0.1C0.047,0.137 0.072,0.182 0.1,0.22C0.128,0.258 0.165,0.3 0.2,0.33C0.235,0.36 0.276,0.383 0.312,0.399C0.348,0.415 0.381,0.422 0.416,0.427C0.451,0.432 0.486,0.433 0.52,0.431C0.554,0.429 0.589,0.423 0.623,0.413C0.657,0.403 0.692,0.389 0.727,0.37C0.762,0.351 0.8,0.327 0.831,0.298C0.862,0.269 0.891,0.231 0.914,0.197C0.937,0.164 0.955,0.13 0.969,0.097C0.983,0.064 0.995,0.016 1,0Z" fill="none" stroke="#bfe9fc" stroke-width="0.5" stroke-opacity="0.85" vector-effect="non-scaling-stroke" fill-rule="evenodd"/></g>
<g clip-path="url(#p2d)"><path d="M-0.006,-0.077a0.506,0.506 0 1,0 1.012,0a0.506,0.506 0 1,0 -1.012,0ZM1,0C0.998,-0.013 0.992,-0.053 0.985,-0.08C0.978,-0.107 0.974,-0.132 0.959,-0.163C0.944,-0.194 0.922,-0.235 0.893,-0.266C0.864,-0.297 0.819,-0.327 0.782,-0.347C0.745,-0.367 0.717,-0.378 0.671,-0.387C0.625,-0.397 0.56,-0.407 0.505,-0.404C0.45,-0.401 0.38,-0.381 0.339,-0.37C0.299,-0.359 0.294,-0.356 0.262,-0.336C0.231,-0.316 0.185,-0.286 0.15,-0.25C0.115,-0.214 0.075,-0.162 0.05,-0.12C0.025,-0.078 0.008,-0.02 0,0Z" fill="none" stroke="#bfe9fc" stroke-width="0.5" stroke-opacity="0.85" vector-effect="non-scaling-stroke" fill-rule="evenodd"/></g>
<path d="M0.028,0a0.972,0.972 0 1,0 1.944,0a0.972,0.972 0 1,0 -1.944,0ZM0.182,0a0.818,0.818 0 1,0 1.636,0a0.818,0.818 0 1,0 -1.636,0Z" fill="none" stroke="#f4f43c" stroke-width="0.5" stroke-opacity="0.85" vector-effect="non-scaling-stroke" fill-rule="evenodd"/>
<path d="M-1.15,0.245C-1.125,0.248 -1.101,0.249 -1,0.262C-0.899,0.275 -0.69,0.297 -0.545,0.32C-0.4,0.343 -0.251,0.372 -0.13,0.399C-0.009,0.426 0.099,0.456 0.179,0.482C0.259,0.507 0.301,0.529 0.35,0.552C0.399,0.575 0.437,0.595 0.472,0.62C0.507,0.645 0.53,0.67 0.56,0.7C0.591,0.73 0.625,0.768 0.655,0.8C0.685,0.832 0.714,0.861 0.74,0.89C0.766,0.919 0.787,0.917 0.81,0.974C0.833,1.031 0.864,1.145 0.879,1.233C0.894,1.321 0.896,1.431 0.9,1.5C0.904,1.569 0.904,1.625 0.905,1.65L1.003,1.65C1.002,1.625 1.002,1.569 1,1.5C0.998,1.431 0.998,1.321 0.99,1.233C0.982,1.145 0.972,1.058 0.949,0.974C0.926,0.89 0.878,0.785 0.851,0.73C0.824,0.675 0.806,0.667 0.788,0.643C0.77,0.619 0.763,0.609 0.741,0.586C0.719,0.563 0.683,0.527 0.655,0.505C0.627,0.483 0.604,0.467 0.575,0.452C0.545,0.437 0.524,0.429 0.478,0.413C0.432,0.397 0.402,0.382 0.301,0.356C0.2,0.33 0.011,0.279 -0.13,0.255C-0.271,0.231 -0.4,0.228 -0.545,0.212C-0.69,0.196 -0.899,0.172 -1,0.161C-1.101,0.15 -1.125,0.15 -1.15,0.148Z" fill="none" stroke="#a6f7c0" stroke-width="0.5" stroke-opacity="0.85" vector-effect="non-scaling-stroke"/>
<path d="M1.39,-1.65C1.396,-1.625 1.407,-1.568 1.426,-1.5C1.444,-1.432 1.472,-1.326 1.501,-1.242C1.53,-1.158 1.563,-1.071 1.598,-0.997C1.633,-0.923 1.667,-0.861 1.709,-0.796C1.751,-0.731 1.798,-0.661 1.847,-0.609C1.895,-0.557 1.95,-0.521 2,-0.486C2.05,-0.451 2.125,-0.414 2.15,-0.4L2.15,-0.6C2.125,-0.628 2.039,-0.72 2,-0.767C1.961,-0.814 1.944,-0.839 1.916,-0.882C1.888,-0.925 1.865,-0.959 1.833,-1.026C1.801,-1.093 1.754,-1.206 1.723,-1.285C1.692,-1.364 1.666,-1.439 1.647,-1.5C1.628,-1.561 1.616,-1.625 1.61,-1.65Z" fill="none" stroke="#a6f7c0" stroke-width="0.5" stroke-opacity="0.85" vector-effect="non-scaling-stroke"/>
<path d="M1.095,0.97L1.069,0.972L1.042,0.973L1.015,0.972L0.988,0.971L0.961,0.97L0.935,0.967L0.908,0.964L0.882,0.96L0.855,0.955L0.829,0.949L0.803,0.943L0.777,0.936L0.751,0.928L0.726,0.919L0.7,0.91L0.675,0.9L0.651,0.889L0.626,0.878L0.602,0.866L0.579,0.854L0.555,0.84L0.532,0.826L0.51,0.812L0.487,0.796L0.466,0.781L0.444,0.764L0.423,0.747L0.403,0.73L0.383,0.711L0.364,0.693L0.345,0.674L0.326,0.654L0.309,0.634L0.291,0.613L0.275,0.592L0.259,0.57L0.243,0.548L0.228,0.525L0.214,0.502L0.201,0.479L0.188,0.455L0.176,0.431L0.164,0.407L0.153,0.382L0.143,0.357L0.133,0.332L0.125,0.306L0.117,0.281L0.109,0.255L0.103,0.228L0.097,0.202L0.091,0.176L0.087,0.149L0.083,0.122L0.08,0.095L0.078,0.068L0.077,0.041L0.076,0.014L0.076,-0.013L0.077,-0.04L0.079,-0.067L0.081,-0.094L0.084,-0.121L0.088,-0.147L0.092,-0.174L0.098,-0.201L0.104,-0.227L0.11,-0.253L0.118,-0.279L0.126,-0.305L0.135,-0.331L0.145,-0.356L0.155,-0.381L0.166,-0.406L0.178,-0.43L0.19,-0.454L0.203,-0.478L0.217,-0.501L0.231,-0.524L0.247,-0.547L0.262,-0.569L0.278,-0.59L0.295,-0.612L0.313,-0.632L0.331,-0.653L0.349,-0.672L0.368,-0.692L0.388,-0.71L0.408,-0.728L0.429,-0.746L0.45,-0.763L0.472,-0.779L0.494,-0.795L0.516,-0.81L0.539,-0.825L0.562,-0.838L0.586,-0.852L0.61,-0.864L0.634,-0.876L0.659,-0.887L0.684,-0.898L0.709,-0.907L0.735,-0.916L0.761,-0.925L0.787,-0.932L0.813,-0.939L0.839,-0.945L0.866,-0.95L0.893,-0.954L0.919,-0.957L0.946,-0.959L0.973,-0.961L1,-0.961L1.027,-0.961L1.054,-0.96L1.081,-0.958L1.108,-0.955L1.134,-0.951L1.16,-0.946L1.186,-0.936L1.186,-0.936L1.158,-0.926L1.132,-0.922L1.106,-0.92L1.08,-0.917L1.054,-0.914L1.028,-0.91L1.003,-0.906L0.978,-0.902L0.953,-0.897L0.928,-0.891L0.904,-0.885L0.88,-0.879L0.855,-0.872L0.831,-0.866L0.807,-0.86L0.783,-0.852L0.759,-0.844L0.736,-0.836L0.713,-0.827L0.69,-0.817L0.667,-0.806L0.645,-0.795L0.623,-0.784L0.601,-0.771L0.58,-0.758L0.559,-0.745L0.538,-0.731L0.518,-0.716L0.498,-0.701L0.479,-0.686L0.46,-0.669L0.441,-0.653L0.423,-0.635L0.406,-0.618L0.389,-0.6L0.372,-0.581L0.356,-0.562L0.341,-0.542L0.326,-0.522L0.311,-0.502L0.297,-0.481L0.284,-0.46L0.272,-0.439L0.259,-0.417L0.248,-0.395L0.237,-0.372L0.227,-0.35L0.217,-0.327L0.208,-0.303L0.2,-0.28L0.192,-0.256L0.185,-0.232L0.179,-0.208L0.173,-0.184L0.168,-0.16L0.164,-0.135L0.16,-0.111L0.157,-0.086L0.155,-0.061L0.153,-0.036L0.152,-0.011L0.152,0.014L0.152,0.039L0.154,0.064L0.155,0.088L0.158,0.113L0.161,0.138L0.165,0.163L0.169,0.187L0.175,0.212L0.18,0.236L0.187,0.26L0.194,0.284L0.202,0.308L0.21,0.331L0.22,0.354L0.229,0.377L0.24,0.4L0.251,0.423L0.263,0.445L0.275,0.466L0.288,0.488L0.301,0.509L0.315,0.53L0.33,0.55L0.345,0.57L0.361,0.59L0.377,0.609L0.394,0.627L0.411,0.645L0.429,0.663L0.447,0.68L0.466,0.697L0.485,0.713L0.505,0.729L0.525,0.744L0.545,0.758L0.566,0.772L0.588,0.785L0.609,0.798L0.631,0.81L0.654,0.822L0.676,0.833L0.699,0.843L0.723,0.853L0.746,0.862L0.77,0.87L0.794,0.878L0.818,0.885L0.843,0.891L0.867,0.897L0.892,0.902L0.916,0.91L0.941,0.917L0.966,0.924L0.991,0.931L1.016,0.938L1.042,0.944L1.068,0.952L1.095,0.97Z" fill="none" stroke="#f5a032" stroke-width="0.5" stroke-opacity="0.85" vector-effect="non-scaling-stroke"/>
</g>
<path d="M691.9,364.5H1053.4M812.4,190.8V538.2" stroke="#1a1a1a" stroke-width="0.9" stroke-dasharray="2,2.4" fill="none"/>
<path d="M812.4,364.5L832.041,323.97L932.9,364.5Z" fill="none" stroke="#000" stroke-width="1.45" stroke-linejoin="miter"/>
<path d="M830.4,364.5A18,18 0 0,0 820.25,348.302" fill="none" stroke="#000" stroke-width="0.8"/>
<path d="M907.4,364.5A25.5,25.5 0 0,1 909.239,354.992" fill="none" stroke="#000" stroke-width="0.8"/>
<path d="M824.628,339.268A17,17 0 0,0 847.816,330.309" fill="none" stroke="#000" stroke-width="0.8"/>
<path d="M691.9,538.2v-10M691.9,190.8v10M703.95,538.2v-5M703.95,190.8v5M716,538.2v-5M716,190.8v5M728.05,538.2v-5M728.05,190.8v5M740.1,538.2v-5M740.1,190.8v5M752.15,538.2v-10M752.15,190.8v10M764.2,538.2v-5M764.2,190.8v5M776.25,538.2v-5M776.25,190.8v5M788.3,538.2v-5M788.3,190.8v5M800.35,538.2v-5M800.35,190.8v5M812.4,538.2v-10M812.4,190.8v10M824.45,538.2v-5M824.45,190.8v5M836.5,538.2v-5M836.5,190.8v5M848.55,538.2v-5M848.55,190.8v5M860.6,538.2v-5M860.6,190.8v5M872.65,538.2v-10M872.65,190.8v10M884.7,538.2v-5M884.7,190.8v5M896.75,538.2v-5M896.75,190.8v5M908.8,538.2v-5M908.8,190.8v5M920.85,538.2v-5M920.85,190.8v5M932.9,538.2v-10M932.9,190.8v10M944.95,538.2v-5M944.95,190.8v5M957,538.2v-5M957,190.8v5M969.05,538.2v-5M969.05,190.8v5M981.1,538.2v-5M981.1,190.8v5M993.15,538.2v-10M993.15,190.8v10M1005.2,538.2v-5M1005.2,190.8v5M1017.25,538.2v-5M1017.25,190.8v5M1029.3,538.2v-5M1029.3,190.8v5M1041.35,538.2v-5M1041.35,190.8v5M1053.4,538.2v-10M1053.4,190.8v10M691.9,538.2h10M1053.4,538.2h-10M691.9,526.62h5M1053.4,526.62h-5M691.9,515.04h5M1053.4,515.04h-5M691.9,503.46h5M1053.4,503.46h-5M691.9,491.88h5M1053.4,491.88h-5M691.9,480.3h10M1053.4,480.3h-10M691.9,468.72h5M1053.4,468.72h-5M691.9,457.14h5M1053.4,457.14h-5M691.9,445.56h5M1053.4,445.56h-5M691.9,433.98h5M1053.4,433.98h-5M691.9,422.4h10M1053.4,422.4h-10M691.9,410.82h5M1053.4,410.82h-5M691.9,399.24h5M1053.4,399.24h-5M691.9,387.66h5M1053.4,387.66h-5M691.9,376.08h5M1053.4,376.08h-5M691.9,364.5h10M1053.4,364.5h-10M691.9,352.92h5M1053.4,352.92h-5M691.9,341.34h5M1053.4,341.34h-5M691.9,329.76h5M1053.4,329.76h-5M691.9,318.18h5M1053.4,318.18h-5M691.9,306.6h10M1053.4,306.6h-10M691.9,295.02h5M1053.4,295.02h-5M691.9,283.44h5M1053.4,283.44h-5M691.9,271.86h5M1053.4,271.86h-5M691.9,260.28h5M1053.4,260.28h-5M691.9,248.7h10M1053.4,248.7h-10M691.9,237.12h5M1053.4,237.12h-5M691.9,225.54h5M1053.4,225.54h-5M691.9,213.96h5M1053.4,213.96h-5M691.9,202.38h5M1053.4,202.38h-5M691.9,190.8h10M1053.4,190.8h-10" stroke="#444" stroke-width="1" fill="none"/>
<rect x="691.9" y="190.8" width="361.5" height="347.4" fill="none" stroke="#666" stroke-width="1.2"/>
<text x="690.1" y="555.8" font-size="13.1" text-anchor="middle" font-weight="bold">-1.0</text>
<text x="750.35" y="555.8" font-size="13.1" text-anchor="middle" font-weight="bold">-0.5</text>
<text x="811.8" y="555.8" font-size="13.1" text-anchor="middle" font-weight="bold">0.0</text>
<text x="872.05" y="555.8" font-size="13.1" text-anchor="middle" font-weight="bold">0.5</text>
<text x="932.3" y="555.8" font-size="13.1" text-anchor="middle" font-weight="bold">1.0</text>
<text x="992.55" y="555.8" font-size="13.1" text-anchor="middle" font-weight="bold">1.5</text>
<text x="1052.8" y="555.8" font-size="13.1" text-anchor="middle" font-weight="bold">2.0</text>
<text x="684.9" y="542.9" font-size="13.1" text-anchor="end" font-weight="bold">-1.5</text>
<text x="684.9" y="485" font-size="13.1" text-anchor="end" font-weight="bold">-1.0</text>
<text x="684.9" y="427.1" font-size="13.1" text-anchor="end" font-weight="bold">-0.5</text>
<text x="684.9" y="369.2" font-size="13.1" text-anchor="end" font-weight="bold">0.0</text>
<text x="684.9" y="311.3" font-size="13.1" text-anchor="end" font-weight="bold">0.5</text>
<text x="684.9" y="253.4" font-size="13.1" text-anchor="end" font-weight="bold">1.0</text>
<text x="684.9" y="195.5" font-size="13.1" text-anchor="end" font-weight="bold">1.5</text>
<g transform="translate(648.3,364) rotate(-90)"><text x="0" y="0" font-size="21" text-anchor="middle">η</text><path d="M-5.8,-13.2h11.6" stroke="#000" stroke-width="1.2"/></g>
<text x="872.25" y="581.2" font-size="21" text-anchor="middle">ρ</text>
<path d="M866.35,568.1h11.4" stroke="#000" stroke-width="1.2"/>
<rect x="702.8" y="201.2" width="108" height="9.6" fill="#ededed" stroke="#c4c4c4" stroke-width="0.7"/><text x="756.8" y="208.7" font-size="7.8" text-anchor="middle" fill="#222">excluded area has CL &gt; 0.95</text>
<g transform="translate(859.3,192.5) rotate(69.3)"><text x="0" y="0" font-size="7.6" fill="#222">excluded at CL &gt; 0.95</text></g>
<text x="847.2" y="232" font-size="18" font-family='"Liberation Serif", "Noto Serif CJK SC", serif' text-anchor="middle">γ</text>
<text x="704.7" y="289" font-size="17.2">sin 2<tspan font-family='"Liberation Serif", "Noto Serif CJK SC", serif' font-size="18">β</tspan></text>
<text x="706.5" y="340.2" font-size="16"><tspan font-family='"Liberation Serif", "Noto Serif CJK SC", serif' font-size="20">ε</tspan><tspan font-size="11.8" dy="4">K</tspan><tspan dy="-4" font-size="1">&#8203;</tspan></text>
<text x="714.7" y="383.3" font-size="21" font-family='"Liberation Serif", "Noto Serif CJK SC", serif' text-anchor="middle">α</text>
<text x="761.5" y="410" font-size="19">|<tspan dx="1.2">V</tspan><tspan font-size="10.5" dy="4">ub</tspan><tspan dy="-4" font-size="1">&#8203;</tspan><tspan dx="1">|</tspan></text>
<text x="916.7" y="410.3" font-size="21" font-family='"Liberation Serif", "Noto Serif CJK SC", serif' text-anchor="middle">α</text>
<text x="776" y="484" font-size="18" font-family='"Liberation Serif", "Noto Serif CJK SC", serif' text-anchor="middle">γ</text>
<text x="1009.5" y="476.5" font-size="16"><tspan font-family='"Liberation Serif", "Noto Serif CJK SC", serif' font-size="20">ε</tspan><tspan font-size="11.8" dy="4">K</tspan><tspan dy="-4" font-size="1">&#8203;</tspan></text>
<text x="941.5" y="262" font-size="15.8">Δm<tspan font-size="11" dy="4">d</tspan><tspan dy="-4" font-size="1">&#8203;</tspan> &amp; Δm<tspan font-size="11" dy="4">s</tspan><tspan dy="-4" font-size="1">&#8203;</tspan></text>
<text x="995.5" y="322.5" font-size="15.8">Δm<tspan font-size="11" dy="4">d</tspan><tspan dy="-4" font-size="1">&#8203;</tspan></text>
<text x="969.5" y="506" font-size="8.4" fill="#222">sol. w/ cos 2β &lt; 0</text><text x="969.5" y="517.8" font-size="8.4" fill="#222">(excl. at CL &gt; 0.95)</text>
<g transform="translate(710,488)">
<rect x="0" y="0" width="55.3" height="23" fill="#0000f5"/>
<rect x="1" y="14" width="54.3" height="7.7" fill="#fff"/>
<rect x="0" y="23" width="55.3" height="10" fill="#c5c5ee"/>
<text x="25.45" y="12.5" font-size="15.8" text-anchor="middle" font-style="italic" fill="#fff">CKM</text>
<text x="17.2" y="21.1" font-size="9.2" font-weight="bold" fill="#0000f5" letter-spacing="2.75">fitter</text>
<text x="26.95" y="31.1" font-size="7.7" text-anchor="middle" fill="#2a2af0">Summer 19</text>
</g>
<text x="822.7" y="361.3" font-size="10.5" font-family='"Liberation Serif", "Noto Serif CJK SC", serif' text-anchor="middle">γ</text>
<text x="833.7" y="338.8" font-size="10.5" font-family='"Liberation Serif", "Noto Serif CJK SC", serif' text-anchor="middle">α</text>
<text x="893.2" y="360.3" font-size="10.5" font-family='"Liberation Serif", "Noto Serif CJK SC", serif' text-anchor="middle">β</text>
</g>
<g id="p3">
<clipPath id="p3f"><rect x="-1" y="-1.5" width="3" height="3"/></clipPath>
<clipPath id="p3u"><rect x="-1" y="0" width="3" height="1.5"/></clipPath>
<clipPath id="p3d"><rect x="-1" y="-1.5" width="3" height="1.5"/></clipPath>
<g transform="translate(276.7,967.9) scale(120.4,-115.8)" clip-path="url(#p3f)">
<path d="M0,0L0.233,1.8L1.038,1.8Z" fill="#e0ddb3"/>
<path d="M0,0L-0.233,-1.8L-1.038,-1.8Z" fill="#e0ddb3"/>
<path d="M-1.2,-1.7H2.2V1.7H-1.2ZM-2.246,-2.7a2.746,2.746 0 1,0 5.492,0a2.746,2.746 0 1,0 -5.492,0ZM-2.769,3.23a3.269,3.269 0 1,0 6.538,0a3.269,3.269 0 1,0 -6.538,0Z" fill="#b4e4fb" fill-rule="evenodd"/>
<g clip-path="url(#p3u)"><path d="M0,0C-0.002,0.017 -0.012,0.058 -0.012,0.1C-0.012,0.142 -0.015,0.197 0,0.25C0.015,0.303 0.038,0.37 0.08,0.42C0.122,0.47 0.197,0.519 0.25,0.55C0.303,0.581 0.355,0.594 0.4,0.605C0.445,0.616 0.473,0.619 0.52,0.615C0.568,0.611 0.639,0.595 0.685,0.579C0.731,0.563 0.76,0.546 0.796,0.521C0.832,0.496 0.871,0.462 0.9,0.427C0.929,0.392 0.951,0.351 0.969,0.312C0.987,0.273 1.002,0.228 1.011,0.19C1.02,0.152 1.024,0.11 1.024,0.082C1.024,0.054 1.016,0.034 1.012,0.02C1.008,0.006 1.002,0.003 1,0ZM0,0C0.005,0.017 0.013,0.063 0.03,0.1C0.047,0.137 0.072,0.182 0.1,0.22C0.128,0.258 0.165,0.3 0.2,0.33C0.235,0.36 0.276,0.383 0.312,0.399C0.348,0.415 0.381,0.422 0.416,0.427C0.451,0.432 0.486,0.433 0.52,0.431C0.554,0.429 0.589,0.423 0.623,0.413C0.657,0.403 0.692,0.389 0.727,0.37C0.762,0.351 0.8,0.327 0.831,0.298C0.862,0.269 0.891,0.231 0.914,0.197C0.937,0.164 0.955,0.13 0.969,0.097C0.983,0.064 0.995,0.016 1,0Z" fill="#b4e4fb" fill-rule="evenodd"/></g>
<g clip-path="url(#p3d)"><path d="M-0.006,-0.077a0.506,0.506 0 1,0 1.012,0a0.506,0.506 0 1,0 -1.012,0ZM1,0C0.998,-0.013 0.992,-0.053 0.985,-0.08C0.978,-0.107 0.974,-0.132 0.959,-0.163C0.944,-0.194 0.922,-0.235 0.893,-0.266C0.864,-0.297 0.819,-0.327 0.782,-0.347C0.745,-0.367 0.717,-0.378 0.671,-0.387C0.625,-0.397 0.56,-0.407 0.505,-0.404C0.45,-0.401 0.38,-0.381 0.339,-0.37C0.299,-0.359 0.294,-0.356 0.262,-0.336C0.231,-0.316 0.185,-0.286 0.15,-0.25C0.115,-0.214 0.075,-0.162 0.05,-0.12C0.025,-0.078 0.008,-0.02 0,0Z" fill="#b4e4fb" fill-rule="evenodd"/></g>
<path d="M0.028,0a0.972,0.972 0 1,0 1.944,0a0.972,0.972 0 1,0 -1.944,0ZM0.182,0a0.818,0.818 0 1,0 1.636,0a0.818,0.818 0 1,0 -1.636,0Z" fill="#fbfa26" fill-rule="evenodd"/>
<path d="M-1.15,0.245C-1.125,0.248 -1.101,0.249 -1,0.262C-0.899,0.275 -0.69,0.297 -0.545,0.32C-0.4,0.343 -0.251,0.372 -0.13,0.399C-0.009,0.426 0.099,0.456 0.179,0.482C0.259,0.507 0.301,0.529 0.35,0.552C0.399,0.575 0.437,0.595 0.472,0.62C0.507,0.645 0.53,0.67 0.56,0.7C0.591,0.73 0.625,0.768 0.655,0.8C0.685,0.832 0.714,0.861 0.74,0.89C0.766,0.919 0.787,0.917 0.81,0.974C0.833,1.031 0.864,1.145 0.879,1.233C0.894,1.321 0.896,1.431 0.9,1.5C0.904,1.569 0.904,1.625 0.905,1.65L1.003,1.65C1.002,1.625 1.002,1.569 1,1.5C0.998,1.431 0.998,1.321 0.99,1.233C0.982,1.145 0.972,1.058 0.949,0.974C0.926,0.89 0.878,0.785 0.851,0.73C0.824,0.675 0.806,0.667 0.788,0.643C0.77,0.619 0.763,0.609 0.741,0.586C0.719,0.563 0.683,0.527 0.655,0.505C0.627,0.483 0.604,0.467 0.575,0.452C0.545,0.437 0.524,0.429 0.478,0.413C0.432,0.397 0.402,0.382 0.301,0.356C0.2,0.33 0.011,0.279 -0.13,0.255C-0.271,0.231 -0.4,0.228 -0.545,0.212C-0.69,0.196 -0.899,0.172 -1,0.161C-1.101,0.15 -1.125,0.15 -1.15,0.148Z" fill="#8dfdb2"/>
<path d="M1.39,-1.65C1.396,-1.625 1.407,-1.568 1.426,-1.5C1.444,-1.432 1.472,-1.326 1.501,-1.242C1.53,-1.158 1.563,-1.071 1.598,-0.997C1.633,-0.923 1.667,-0.861 1.709,-0.796C1.751,-0.731 1.798,-0.661 1.847,-0.609C1.895,-0.557 1.95,-0.521 2,-0.486C2.05,-0.451 2.125,-0.414 2.15,-0.4L2.15,-0.6C2.125,-0.628 2.039,-0.72 2,-0.767C1.961,-0.814 1.944,-0.839 1.916,-0.882C1.888,-0.925 1.865,-0.959 1.833,-1.026C1.801,-1.093 1.754,-1.206 1.723,-1.285C1.692,-1.364 1.666,-1.439 1.647,-1.5C1.628,-1.561 1.616,-1.625 1.61,-1.65Z" fill="#8dfdb2"/>
<path d="M1.095,0.97L1.069,0.972L1.042,0.973L1.015,0.972L0.988,0.971L0.961,0.97L0.935,0.967L0.908,0.964L0.882,0.96L0.855,0.955L0.829,0.949L0.803,0.943L0.777,0.936L0.751,0.928L0.726,0.919L0.7,0.91L0.675,0.9L0.651,0.889L0.626,0.878L0.602,0.866L0.579,0.854L0.555,0.84L0.532,0.826L0.51,0.812L0.487,0.796L0.466,0.781L0.444,0.764L0.423,0.747L0.403,0.73L0.383,0.711L0.364,0.693L0.345,0.674L0.326,0.654L0.309,0.634L0.291,0.613L0.275,0.592L0.259,0.57L0.243,0.548L0.228,0.525L0.214,0.502L0.201,0.479L0.188,0.455L0.176,0.431L0.164,0.407L0.153,0.382L0.143,0.357L0.133,0.332L0.125,0.306L0.117,0.281L0.109,0.255L0.103,0.228L0.097,0.202L0.091,0.176L0.087,0.149L0.083,0.122L0.08,0.095L0.078,0.068L0.077,0.041L0.076,0.014L0.076,-0.013L0.077,-0.04L0.079,-0.067L0.081,-0.094L0.084,-0.121L0.088,-0.147L0.092,-0.174L0.098,-0.201L0.104,-0.227L0.11,-0.253L0.118,-0.279L0.126,-0.305L0.135,-0.331L0.145,-0.356L0.155,-0.381L0.166,-0.406L0.178,-0.43L0.19,-0.454L0.203,-0.478L0.217,-0.501L0.231,-0.524L0.247,-0.547L0.262,-0.569L0.278,-0.59L0.295,-0.612L0.313,-0.632L0.331,-0.653L0.349,-0.672L0.368,-0.692L0.388,-0.71L0.408,-0.728L0.429,-0.746L0.45,-0.763L0.472,-0.779L0.494,-0.795L0.516,-0.81L0.539,-0.825L0.562,-0.838L0.586,-0.852L0.61,-0.864L0.634,-0.876L0.659,-0.887L0.684,-0.898L0.709,-0.907L0.735,-0.916L0.761,-0.925L0.787,-0.932L0.813,-0.939L0.839,-0.945L0.866,-0.95L0.893,-0.954L0.919,-0.957L0.946,-0.959L0.973,-0.961L1,-0.961L1.027,-0.961L1.054,-0.96L1.081,-0.958L1.108,-0.955L1.134,-0.951L1.16,-0.946L1.186,-0.936L1.186,-0.936L1.158,-0.926L1.132,-0.922L1.106,-0.92L1.08,-0.917L1.054,-0.914L1.028,-0.91L1.003,-0.906L0.978,-0.902L0.953,-0.897L0.928,-0.891L0.904,-0.885L0.88,-0.879L0.855,-0.872L0.831,-0.866L0.807,-0.86L0.783,-0.852L0.759,-0.844L0.736,-0.836L0.713,-0.827L0.69,-0.817L0.667,-0.806L0.645,-0.795L0.623,-0.784L0.601,-0.771L0.58,-0.758L0.559,-0.745L0.538,-0.731L0.518,-0.716L0.498,-0.701L0.479,-0.686L0.46,-0.669L0.441,-0.653L0.423,-0.635L0.406,-0.618L0.389,-0.6L0.372,-0.581L0.356,-0.562L0.341,-0.542L0.326,-0.522L0.311,-0.502L0.297,-0.481L0.284,-0.46L0.272,-0.439L0.259,-0.417L0.248,-0.395L0.237,-0.372L0.227,-0.35L0.217,-0.327L0.208,-0.303L0.2,-0.28L0.192,-0.256L0.185,-0.232L0.179,-0.208L0.173,-0.184L0.168,-0.16L0.164,-0.135L0.16,-0.111L0.157,-0.086L0.155,-0.061L0.153,-0.036L0.152,-0.011L0.152,0.014L0.152,0.039L0.154,0.064L0.155,0.088L0.158,0.113L0.161,0.138L0.165,0.163L0.169,0.187L0.175,0.212L0.18,0.236L0.187,0.26L0.194,0.284L0.202,0.308L0.21,0.331L0.22,0.354L0.229,0.377L0.24,0.4L0.251,0.423L0.263,0.445L0.275,0.466L0.288,0.488L0.301,0.509L0.315,0.53L0.33,0.55L0.345,0.57L0.361,0.59L0.377,0.609L0.394,0.627L0.411,0.645L0.429,0.663L0.447,0.68L0.466,0.697L0.485,0.713L0.505,0.729L0.525,0.744L0.545,0.758L0.566,0.772L0.588,0.785L0.609,0.798L0.631,0.81L0.654,0.822L0.676,0.833L0.699,0.843L0.723,0.853L0.746,0.862L0.77,0.87L0.794,0.878L0.818,0.885L0.843,0.891L0.867,0.897L0.892,0.902L0.916,0.91L0.941,0.917L0.966,0.924L0.991,0.931L1.016,0.938L1.042,0.944L1.068,0.952L1.095,0.97Z" fill="#ff9a05"/>
<path d="M-0.436,0a0.436,0.436 0 1,0 0.872,0a0.436,0.436 0 1,0 -0.872,0ZM-0.353,0a0.353,0.353 0 1,0 0.706,0a0.353,0.353 0 1,0 -0.706,0Z" fill="#33c64c" fill-rule="evenodd"/>
<path d="M1,0L-1.2,0.966L-1.2,0.816Z" fill="#a8ccff"/>
<path d="M1,0L2.2,-0.527L2.2,-0.445Z" fill="#a8ccff"/>
<path d="M1,0L-1.2,0.955L-1.2,0.827Z" fill="#5fadff"/>
<path d="M1,0L2.2,-0.521L2.2,-0.451Z" fill="#5fadff"/>
<path d="M1,0L-1.2,0.934M1,0L-1.2,0.848" fill="none" stroke="#c9c2ff" stroke-width="0.55" vector-effect="non-scaling-stroke"/>
<path d="M1,0L0.282,1.65L0.381,1.65ZM1,0L1.62,-1.65L1.704,-1.65Z" fill="#e4e4e4" stroke="#9a9a9a" stroke-width="0.8" vector-effect="non-scaling-stroke"/>
<ellipse cx="0.158" cy="0.352" rx="0.025" ry="0.02" fill="#ffcf30" stroke="#f03a20" stroke-width="0.9" vector-effect="non-scaling-stroke"/>
<path d="M0,0L0.233,1.8L1.038,1.8Z" fill="none" stroke="#e8e5bf" stroke-width="0.5" stroke-opacity="0.85" vector-effect="non-scaling-stroke"/>
<path d="M0,0L-0.233,-1.8L-1.038,-1.8Z" fill="none" stroke="#e8e5bf" stroke-width="0.5" stroke-opacity="0.85" vector-effect="non-scaling-stroke"/>
<path d="M-1.2,-1.7H2.2V1.7H-1.2ZM-2.246,-2.7a2.746,2.746 0 1,0 5.492,0a2.746,2.746 0 1,0 -5.492,0ZM-2.769,3.23a3.269,3.269 0 1,0 6.538,0a3.269,3.269 0 1,0 -6.538,0Z" fill="none" stroke="#bfe9fc" stroke-width="0.5" stroke-opacity="0.85" vector-effect="non-scaling-stroke" fill-rule="evenodd"/>
<g clip-path="url(#p3u)"><path d="M0,0C-0.002,0.017 -0.012,0.058 -0.012,0.1C-0.012,0.142 -0.015,0.197 0,0.25C0.015,0.303 0.038,0.37 0.08,0.42C0.122,0.47 0.197,0.519 0.25,0.55C0.303,0.581 0.355,0.594 0.4,0.605C0.445,0.616 0.473,0.619 0.52,0.615C0.568,0.611 0.639,0.595 0.685,0.579C0.731,0.563 0.76,0.546 0.796,0.521C0.832,0.496 0.871,0.462 0.9,0.427C0.929,0.392 0.951,0.351 0.969,0.312C0.987,0.273 1.002,0.228 1.011,0.19C1.02,0.152 1.024,0.11 1.024,0.082C1.024,0.054 1.016,0.034 1.012,0.02C1.008,0.006 1.002,0.003 1,0ZM0,0C0.005,0.017 0.013,0.063 0.03,0.1C0.047,0.137 0.072,0.182 0.1,0.22C0.128,0.258 0.165,0.3 0.2,0.33C0.235,0.36 0.276,0.383 0.312,0.399C0.348,0.415 0.381,0.422 0.416,0.427C0.451,0.432 0.486,0.433 0.52,0.431C0.554,0.429 0.589,0.423 0.623,0.413C0.657,0.403 0.692,0.389 0.727,0.37C0.762,0.351 0.8,0.327 0.831,0.298C0.862,0.269 0.891,0.231 0.914,0.197C0.937,0.164 0.955,0.13 0.969,0.097C0.983,0.064 0.995,0.016 1,0Z" fill="none" stroke="#bfe9fc" stroke-width="0.5" stroke-opacity="0.85" vector-effect="non-scaling-stroke" fill-rule="evenodd"/></g>
<g clip-path="url(#p3d)"><path d="M-0.006,-0.077a0.506,0.506 0 1,0 1.012,0a0.506,0.506 0 1,0 -1.012,0ZM1,0C0.998,-0.013 0.992,-0.053 0.985,-0.08C0.978,-0.107 0.974,-0.132 0.959,-0.163C0.944,-0.194 0.922,-0.235 0.893,-0.266C0.864,-0.297 0.819,-0.327 0.782,-0.347C0.745,-0.367 0.717,-0.378 0.671,-0.387C0.625,-0.397 0.56,-0.407 0.505,-0.404C0.45,-0.401 0.38,-0.381 0.339,-0.37C0.299,-0.359 0.294,-0.356 0.262,-0.336C0.231,-0.316 0.185,-0.286 0.15,-0.25C0.115,-0.214 0.075,-0.162 0.05,-0.12C0.025,-0.078 0.008,-0.02 0,0Z" fill="none" stroke="#bfe9fc" stroke-width="0.5" stroke-opacity="0.85" vector-effect="non-scaling-stroke" fill-rule="evenodd"/></g>
<path d="M0.028,0a0.972,0.972 0 1,0 1.944,0a0.972,0.972 0 1,0 -1.944,0ZM0.182,0a0.818,0.818 0 1,0 1.636,0a0.818,0.818 0 1,0 -1.636,0Z" fill="none" stroke="#f4f43c" stroke-width="0.5" stroke-opacity="0.85" vector-effect="non-scaling-stroke" fill-rule="evenodd"/>
<path d="M-1.15,0.245C-1.125,0.248 -1.101,0.249 -1,0.262C-0.899,0.275 -0.69,0.297 -0.545,0.32C-0.4,0.343 -0.251,0.372 -0.13,0.399C-0.009,0.426 0.099,0.456 0.179,0.482C0.259,0.507 0.301,0.529 0.35,0.552C0.399,0.575 0.437,0.595 0.472,0.62C0.507,0.645 0.53,0.67 0.56,0.7C0.591,0.73 0.625,0.768 0.655,0.8C0.685,0.832 0.714,0.861 0.74,0.89C0.766,0.919 0.787,0.917 0.81,0.974C0.833,1.031 0.864,1.145 0.879,1.233C0.894,1.321 0.896,1.431 0.9,1.5C0.904,1.569 0.904,1.625 0.905,1.65L1.003,1.65C1.002,1.625 1.002,1.569 1,1.5C0.998,1.431 0.998,1.321 0.99,1.233C0.982,1.145 0.972,1.058 0.949,0.974C0.926,0.89 0.878,0.785 0.851,0.73C0.824,0.675 0.806,0.667 0.788,0.643C0.77,0.619 0.763,0.609 0.741,0.586C0.719,0.563 0.683,0.527 0.655,0.505C0.627,0.483 0.604,0.467 0.575,0.452C0.545,0.437 0.524,0.429 0.478,0.413C0.432,0.397 0.402,0.382 0.301,0.356C0.2,0.33 0.011,0.279 -0.13,0.255C-0.271,0.231 -0.4,0.228 -0.545,0.212C-0.69,0.196 -0.899,0.172 -1,0.161C-1.101,0.15 -1.125,0.15 -1.15,0.148Z" fill="none" stroke="#a6f7c0" stroke-width="0.5" stroke-opacity="0.85" vector-effect="non-scaling-stroke"/>
<path d="M1.39,-1.65C1.396,-1.625 1.407,-1.568 1.426,-1.5C1.444,-1.432 1.472,-1.326 1.501,-1.242C1.53,-1.158 1.563,-1.071 1.598,-0.997C1.633,-0.923 1.667,-0.861 1.709,-0.796C1.751,-0.731 1.798,-0.661 1.847,-0.609C1.895,-0.557 1.95,-0.521 2,-0.486C2.05,-0.451 2.125,-0.414 2.15,-0.4L2.15,-0.6C2.125,-0.628 2.039,-0.72 2,-0.767C1.961,-0.814 1.944,-0.839 1.916,-0.882C1.888,-0.925 1.865,-0.959 1.833,-1.026C1.801,-1.093 1.754,-1.206 1.723,-1.285C1.692,-1.364 1.666,-1.439 1.647,-1.5C1.628,-1.561 1.616,-1.625 1.61,-1.65Z" fill="none" stroke="#a6f7c0" stroke-width="0.5" stroke-opacity="0.85" vector-effect="non-scaling-stroke"/>
<path d="M1.095,0.97L1.069,0.972L1.042,0.973L1.015,0.972L0.988,0.971L0.961,0.97L0.935,0.967L0.908,0.964L0.882,0.96L0.855,0.955L0.829,0.949L0.803,0.943L0.777,0.936L0.751,0.928L0.726,0.919L0.7,0.91L0.675,0.9L0.651,0.889L0.626,0.878L0.602,0.866L0.579,0.854L0.555,0.84L0.532,0.826L0.51,0.812L0.487,0.796L0.466,0.781L0.444,0.764L0.423,0.747L0.403,0.73L0.383,0.711L0.364,0.693L0.345,0.674L0.326,0.654L0.309,0.634L0.291,0.613L0.275,0.592L0.259,0.57L0.243,0.548L0.228,0.525L0.214,0.502L0.201,0.479L0.188,0.455L0.176,0.431L0.164,0.407L0.153,0.382L0.143,0.357L0.133,0.332L0.125,0.306L0.117,0.281L0.109,0.255L0.103,0.228L0.097,0.202L0.091,0.176L0.087,0.149L0.083,0.122L0.08,0.095L0.078,0.068L0.077,0.041L0.076,0.014L0.076,-0.013L0.077,-0.04L0.079,-0.067L0.081,-0.094L0.084,-0.121L0.088,-0.147L0.092,-0.174L0.098,-0.201L0.104,-0.227L0.11,-0.253L0.118,-0.279L0.126,-0.305L0.135,-0.331L0.145,-0.356L0.155,-0.381L0.166,-0.406L0.178,-0.43L0.19,-0.454L0.203,-0.478L0.217,-0.501L0.231,-0.524L0.247,-0.547L0.262,-0.569L0.278,-0.59L0.295,-0.612L0.313,-0.632L0.331,-0.653L0.349,-0.672L0.368,-0.692L0.388,-0.71L0.408,-0.728L0.429,-0.746L0.45,-0.763L0.472,-0.779L0.494,-0.795L0.516,-0.81L0.539,-0.825L0.562,-0.838L0.586,-0.852L0.61,-0.864L0.634,-0.876L0.659,-0.887L0.684,-0.898L0.709,-0.907L0.735,-0.916L0.761,-0.925L0.787,-0.932L0.813,-0.939L0.839,-0.945L0.866,-0.95L0.893,-0.954L0.919,-0.957L0.946,-0.959L0.973,-0.961L1,-0.961L1.027,-0.961L1.054,-0.96L1.081,-0.958L1.108,-0.955L1.134,-0.951L1.16,-0.946L1.186,-0.936L1.186,-0.936L1.158,-0.926L1.132,-0.922L1.106,-0.92L1.08,-0.917L1.054,-0.914L1.028,-0.91L1.003,-0.906L0.978,-0.902L0.953,-0.897L0.928,-0.891L0.904,-0.885L0.88,-0.879L0.855,-0.872L0.831,-0.866L0.807,-0.86L0.783,-0.852L0.759,-0.844L0.736,-0.836L0.713,-0.827L0.69,-0.817L0.667,-0.806L0.645,-0.795L0.623,-0.784L0.601,-0.771L0.58,-0.758L0.559,-0.745L0.538,-0.731L0.518,-0.716L0.498,-0.701L0.479,-0.686L0.46,-0.669L0.441,-0.653L0.423,-0.635L0.406,-0.618L0.389,-0.6L0.372,-0.581L0.356,-0.562L0.341,-0.542L0.326,-0.522L0.311,-0.502L0.297,-0.481L0.284,-0.46L0.272,-0.439L0.259,-0.417L0.248,-0.395L0.237,-0.372L0.227,-0.35L0.217,-0.327L0.208,-0.303L0.2,-0.28L0.192,-0.256L0.185,-0.232L0.179,-0.208L0.173,-0.184L0.168,-0.16L0.164,-0.135L0.16,-0.111L0.157,-0.086L0.155,-0.061L0.153,-0.036L0.152,-0.011L0.152,0.014L0.152,0.039L0.154,0.064L0.155,0.088L0.158,0.113L0.161,0.138L0.165,0.163L0.169,0.187L0.175,0.212L0.18,0.236L0.187,0.26L0.194,0.284L0.202,0.308L0.21,0.331L0.22,0.354L0.229,0.377L0.24,0.4L0.251,0.423L0.263,0.445L0.275,0.466L0.288,0.488L0.301,0.509L0.315,0.53L0.33,0.55L0.345,0.57L0.361,0.59L0.377,0.609L0.394,0.627L0.411,0.645L0.429,0.663L0.447,0.68L0.466,0.697L0.485,0.713L0.505,0.729L0.525,0.744L0.545,0.758L0.566,0.772L0.588,0.785L0.609,0.798L0.631,0.81L0.654,0.822L0.676,0.833L0.699,0.843L0.723,0.853L0.746,0.862L0.77,0.87L0.794,0.878L0.818,0.885L0.843,0.891L0.867,0.897L0.892,0.902L0.916,0.91L0.941,0.917L0.966,0.924L0.991,0.931L1.016,0.938L1.042,0.944L1.068,0.952L1.095,0.97Z" fill="none" stroke="#f5a032" stroke-width="0.5" stroke-opacity="0.85" vector-effect="non-scaling-stroke"/>
</g>
<path d="M156.3,967.9H517.5M276.7,794.2V1141.6" stroke="#1a1a1a" stroke-width="0.9" stroke-dasharray="2,2.4" fill="none"/>
<path d="M276.7,967.9L296.325,927.37L397.1,967.9Z" fill="none" stroke="#000" stroke-width="1.45" stroke-linejoin="miter"/>
<path d="M294.7,967.9A18,18 0 0,0 284.545,951.699" fill="none" stroke="#000" stroke-width="0.8"/>
<path d="M371.6,967.9A25.5,25.5 0 0,1 373.442,958.385" fill="none" stroke="#000" stroke-width="0.8"/>
<path d="M288.916,942.671A17,17 0 0,0 312.097,933.713" fill="none" stroke="#000" stroke-width="0.8"/>
<path d="M156.3,1141.6v-10M156.3,794.2v10M168.34,1141.6v-5M168.34,794.2v5M180.38,1141.6v-5M180.38,794.2v5M192.42,1141.6v-5M192.42,794.2v5M204.46,1141.6v-5M204.46,794.2v5M216.5,1141.6v-10M216.5,794.2v10M228.54,1141.6v-5M228.54,794.2v5M240.58,1141.6v-5M240.58,794.2v5M252.62,1141.6v-5M252.62,794.2v5M264.66,1141.6v-5M264.66,794.2v5M276.7,1141.6v-10M276.7,794.2v10M288.74,1141.6v-5M288.74,794.2v5M300.78,1141.6v-5M300.78,794.2v5M312.82,1141.6v-5M312.82,794.2v5M324.86,1141.6v-5M324.86,794.2v5M336.9,1141.6v-10M336.9,794.2v10M348.94,1141.6v-5M348.94,794.2v5M360.98,1141.6v-5M360.98,794.2v5M373.02,1141.6v-5M373.02,794.2v5M385.06,1141.6v-5M385.06,794.2v5M397.1,1141.6v-10M397.1,794.2v10M409.14,1141.6v-5M409.14,794.2v5M421.18,1141.6v-5M421.18,794.2v5M433.22,1141.6v-5M433.22,794.2v5M445.26,1141.6v-5M445.26,794.2v5M457.3,1141.6v-10M457.3,794.2v10M469.34,1141.6v-5M469.34,794.2v5M481.38,1141.6v-5M481.38,794.2v5M493.42,1141.6v-5M493.42,794.2v5M505.46,1141.6v-5M505.46,794.2v5M517.5,1141.6v-10M517.5,794.2v10M156.3,1141.6h10M517.5,1141.6h-10M156.3,1130.02h5M517.5,1130.02h-5M156.3,1118.44h5M517.5,1118.44h-5M156.3,1106.86h5M517.5,1106.86h-5M156.3,1095.28h5M517.5,1095.28h-5M156.3,1083.7h10M517.5,1083.7h-10M156.3,1072.12h5M517.5,1072.12h-5M156.3,1060.54h5M517.5,1060.54h-5M156.3,1048.96h5M517.5,1048.96h-5M156.3,1037.38h5M517.5,1037.38h-5M156.3,1025.8h10M517.5,1025.8h-10M156.3,1014.22h5M517.5,1014.22h-5M156.3,1002.64h5M517.5,1002.64h-5M156.3,991.06h5M517.5,991.06h-5M156.3,979.48h5M517.5,979.48h-5M156.3,967.9h10M517.5,967.9h-10M156.3,956.32h5M517.5,956.32h-5M156.3,944.74h5M517.5,944.74h-5M156.3,933.16h5M517.5,933.16h-5M156.3,921.58h5M517.5,921.58h-5M156.3,910h10M517.5,910h-10M156.3,898.42h5M517.5,898.42h-5M156.3,886.84h5M517.5,886.84h-5M156.3,875.26h5M517.5,875.26h-5M156.3,863.68h5M517.5,863.68h-5M156.3,852.1h10M517.5,852.1h-10M156.3,840.52h5M517.5,840.52h-5M156.3,828.94h5M517.5,828.94h-5M156.3,817.36h5M517.5,817.36h-5M156.3,805.78h5M517.5,805.78h-5M156.3,794.2h10M517.5,794.2h-10" stroke="#444" stroke-width="1" fill="none"/>
<rect x="156.3" y="794.2" width="361.2" height="347.4" fill="none" stroke="#666" stroke-width="1.2"/>
<text x="154.5" y="1159.2" font-size="13.1" text-anchor="middle" font-weight="bold">-1.0</text>
<text x="214.7" y="1159.2" font-size="13.1" text-anchor="middle" font-weight="bold">-0.5</text>
<text x="276.1" y="1159.2" font-size="13.1" text-anchor="middle" font-weight="bold">0.0</text>
<text x="336.3" y="1159.2" font-size="13.1" text-anchor="middle" font-weight="bold">0.5</text>
<text x="396.5" y="1159.2" font-size="13.1" text-anchor="middle" font-weight="bold">1.0</text>
<text x="456.7" y="1159.2" font-size="13.1" text-anchor="middle" font-weight="bold">1.5</text>
<text x="516.9" y="1159.2" font-size="13.1" text-anchor="middle" font-weight="bold">2.0</text>
<text x="149.3" y="1146.3" font-size="13.1" text-anchor="end" font-weight="bold">-1.5</text>
<text x="149.3" y="1088.4" font-size="13.1" text-anchor="end" font-weight="bold">-1.0</text>
<text x="149.3" y="1030.5" font-size="13.1" text-anchor="end" font-weight="bold">-0.5</text>
<text x="149.3" y="972.6" font-size="13.1" text-anchor="end" font-weight="bold">0.0</text>
<text x="149.3" y="914.7" font-size="13.1" text-anchor="end" font-weight="bold">0.5</text>
<text x="149.3" y="856.8" font-size="13.1" text-anchor="end" font-weight="bold">1.0</text>
<text x="149.3" y="798.9" font-size="13.1" text-anchor="end" font-weight="bold">1.5</text>
<g transform="translate(112.7,967.4) rotate(-90)"><text x="0" y="0" font-size="21" text-anchor="middle">η</text><path d="M-5.8,-13.2h11.6" stroke="#000" stroke-width="1.2"/></g>
<text x="336.5" y="1184.6" font-size="21" text-anchor="middle">ρ</text>
<path d="M330.6,1171.5h11.4" stroke="#000" stroke-width="1.2"/>
<rect x="167.1" y="804.6" width="108" height="9.6" fill="#ededed" stroke="#c4c4c4" stroke-width="0.7"/><text x="221.1" y="812.1" font-size="7.8" text-anchor="middle" fill="#222">excluded area has CL &gt; 0.95</text>
<g transform="translate(323.6,795.9) rotate(69.3)"><text x="0" y="0" font-size="7.6" fill="#222">excluded at CL &gt; 0.95</text></g>
<text x="311.5" y="835.4" font-size="18" font-family='"Liberation Serif", "Noto Serif CJK SC", serif' text-anchor="middle">γ</text>
<text x="169" y="892.4" font-size="17.2">sin 2<tspan font-family='"Liberation Serif", "Noto Serif CJK SC", serif' font-size="18">β</tspan></text>
<text x="170.8" y="943.6" font-size="16"><tspan font-family='"Liberation Serif", "Noto Serif CJK SC", serif' font-size="20">ε</tspan><tspan font-size="11.8" dy="4">K</tspan><tspan dy="-4" font-size="1">&#8203;</tspan></text>
<text x="179" y="986.7" font-size="21" font-family='"Liberation Serif", "Noto Serif CJK SC", serif' text-anchor="middle">α</text>
<text x="225.8" y="1013.4" font-size="19">|<tspan dx="1.2">V</tspan><tspan font-size="10.5" dy="4">ub</tspan><tspan dy="-4" font-size="1">&#8203;</tspan><tspan dx="1">|</tspan></text>
<text x="381" y="1013.7" font-size="21" font-family='"Liberation Serif", "Noto Serif CJK SC", serif' text-anchor="middle">α</text>
<text x="240.3" y="1087.4" font-size="18" font-family='"Liberation Serif", "Noto Serif CJK SC", serif' text-anchor="middle">γ</text>
<text x="473.8" y="1079.9" font-size="16"><tspan font-family='"Liberation Serif", "Noto Serif CJK SC", serif' font-size="20">ε</tspan><tspan font-size="11.8" dy="4">K</tspan><tspan dy="-4" font-size="1">&#8203;</tspan></text>
<text x="405.8" y="865.4" font-size="15.8">Δm<tspan font-size="11" dy="4">d</tspan><tspan dy="-4" font-size="1">&#8203;</tspan> &amp; Δm<tspan font-size="11" dy="4">s</tspan><tspan dy="-4" font-size="1">&#8203;</tspan></text>
<text x="459.8" y="925.9" font-size="15.8">Δm<tspan font-size="11" dy="4">d</tspan><tspan dy="-4" font-size="1">&#8203;</tspan></text>
<text x="433.8" y="1109.4" font-size="8.4" fill="#222">sol. w/ cos 2β &lt; 0</text><text x="433.8" y="1121.2" font-size="8.4" fill="#222">(excl. at CL &gt; 0.95)</text>
<g transform="translate(174.3,1091.4)">
<rect x="0" y="0" width="55.3" height="23" fill="#0000f5"/>
<rect x="1" y="14" width="54.3" height="7.7" fill="#fff"/>
<rect x="0" y="23" width="55.3" height="10" fill="#c5c5ee"/>
<text x="25.45" y="12.5" font-size="15.8" text-anchor="middle" font-style="italic" fill="#fff">CKM</text>
<text x="17.2" y="21.1" font-size="9.2" font-weight="bold" fill="#0000f5" letter-spacing="2.75">fitter</text>
<text x="26.95" y="31.1" font-size="7.7" text-anchor="middle" fill="#2a2af0">Summer 19</text>
</g>
<text x="287" y="964.7" font-size="10.5" font-family='"Liberation Serif", "Noto Serif CJK SC", serif' text-anchor="middle">γ</text>
<text x="298" y="942.2" font-size="10.5" font-family='"Liberation Serif", "Noto Serif CJK SC", serif' text-anchor="middle">α</text>
<text x="357.5" y="963.7" font-size="10.5" font-family='"Liberation Serif", "Noto Serif CJK SC", serif' text-anchor="middle">β</text>
</g>
<g id="p4">
<clipPath id="p4f"><rect x="-1" y="-1.5" width="3" height="3"/></clipPath>
<clipPath id="p4u"><rect x="-1" y="0" width="3" height="1.5"/></clipPath>
<clipPath id="p4d"><rect x="-1" y="-1.5" width="3" height="1.5"/></clipPath>
<g transform="translate(794.2,975.7) scale(120.5,-115.7)" clip-path="url(#p4f)">
<path d="M0,0L0.713,1.8L0.797,1.8Z" fill="#e0ddb3"/>
<path d="M0,0L-0.702,-1.8L-0.805,-1.8Z" fill="#e0ddb3"/>
<path d="M0.998,0.024L0.999,0.041L0.999,0.058L0.998,0.074L0.996,0.091L0.993,0.107L0.99,0.124L0.986,0.14L0.981,0.156L0.975,0.171L0.968,0.187L0.961,0.202L0.953,0.217L0.945,0.231L0.936,0.246L0.927,0.26L0.917,0.274L0.907,0.287L0.897,0.3L0.886,0.313L0.874,0.325L0.863,0.337L0.851,0.349L0.838,0.36L0.825,0.371L0.812,0.381L0.799,0.391L0.785,0.401L0.771,0.41L0.756,0.418L0.742,0.427L0.727,0.434L0.712,0.441L0.696,0.448L0.681,0.454L0.665,0.46L0.649,0.465L0.633,0.469L0.616,0.473L0.6,0.477L0.583,0.48L0.567,0.482L0.55,0.484L0.534,0.486L0.517,0.487L0.5,0.487L0.483,0.487L0.466,0.486L0.45,0.484L0.433,0.482L0.417,0.48L0.4,0.477L0.384,0.473L0.367,0.469L0.351,0.465L0.335,0.46L0.319,0.454L0.304,0.448L0.288,0.441L0.273,0.434L0.258,0.427L0.244,0.418L0.229,0.41L0.215,0.401L0.201,0.391L0.188,0.381L0.175,0.371L0.162,0.36L0.149,0.349L0.137,0.337L0.126,0.325L0.114,0.313L0.103,0.3L0.093,0.287L0.083,0.274L0.073,0.26L0.064,0.246L0.055,0.231L0.047,0.217L0.039,0.202L0.032,0.187L0.025,0.171L0.019,0.156L0.014,0.14L0.01,0.124L0.007,0.107L0.004,0.091L0.002,0.074L0.001,0.058L0.001,0.041L0.002,0.024L0.002,0.024L0.007,0.04L0.012,0.056L0.017,0.071L0.022,0.087L0.027,0.102L0.033,0.117L0.039,0.131L0.045,0.146L0.051,0.161L0.058,0.175L0.064,0.189L0.072,0.204L0.08,0.217L0.088,0.231L0.096,0.244L0.106,0.257L0.115,0.27L0.125,0.282L0.135,0.294L0.146,0.306L0.157,0.317L0.168,0.328L0.18,0.339L0.192,0.349L0.205,0.359L0.218,0.368L0.231,0.377L0.244,0.386L0.258,0.394L0.271,0.402L0.286,0.409L0.3,0.416L0.314,0.422L0.329,0.428L0.344,0.433L0.359,0.438L0.375,0.442L0.39,0.446L0.405,0.45L0.421,0.452L0.437,0.455L0.452,0.456L0.468,0.458L0.484,0.459L0.5,0.459L0.516,0.459L0.532,0.458L0.548,0.456L0.563,0.455L0.579,0.452L0.595,0.45L0.61,0.446L0.625,0.442L0.641,0.438L0.656,0.433L0.671,0.428L0.686,0.422L0.7,0.416L0.714,0.409L0.729,0.402L0.742,0.394L0.756,0.386L0.769,0.377L0.782,0.368L0.795,0.359L0.808,0.349L0.82,0.339L0.832,0.328L0.843,0.317L0.854,0.306L0.865,0.294L0.875,0.282L0.885,0.27L0.894,0.257L0.904,0.244L0.912,0.231L0.92,0.217L0.928,0.204L0.936,0.189L0.942,0.175L0.949,0.161L0.955,0.146L0.961,0.131L0.967,0.117L0.973,0.102L0.978,0.087L0.983,0.071L0.988,0.056L0.993,0.04L0.998,0.024Z" fill="#aee2fa"/>
<path d="M0.002,-0.072L0.001,-0.089L0.001,-0.106L0.002,-0.122L0.004,-0.139L0.007,-0.155L0.01,-0.172L0.014,-0.188L0.019,-0.204L0.025,-0.22L0.032,-0.235L0.039,-0.25L0.047,-0.265L0.055,-0.28L0.064,-0.294L0.073,-0.308L0.082,-0.322L0.092,-0.335L0.103,-0.349L0.114,-0.361L0.125,-0.374L0.137,-0.386L0.149,-0.397L0.161,-0.409L0.174,-0.419L0.187,-0.43L0.201,-0.44L0.215,-0.449L0.229,-0.458L0.243,-0.467L0.258,-0.475L0.273,-0.483L0.288,-0.49L0.304,-0.497L0.319,-0.503L0.335,-0.508L0.351,-0.513L0.367,-0.518L0.383,-0.522L0.4,-0.526L0.416,-0.529L0.433,-0.531L0.45,-0.533L0.466,-0.534L0.483,-0.535L0.5,-0.535L0.517,-0.535L0.534,-0.534L0.55,-0.533L0.567,-0.531L0.584,-0.529L0.6,-0.526L0.617,-0.522L0.633,-0.518L0.649,-0.513L0.665,-0.508L0.681,-0.503L0.696,-0.497L0.712,-0.49L0.727,-0.483L0.742,-0.475L0.757,-0.467L0.771,-0.458L0.785,-0.449L0.799,-0.44L0.813,-0.43L0.826,-0.419L0.839,-0.409L0.851,-0.397L0.863,-0.386L0.875,-0.374L0.886,-0.361L0.897,-0.349L0.908,-0.335L0.918,-0.322L0.927,-0.308L0.936,-0.294L0.945,-0.28L0.953,-0.265L0.961,-0.25L0.968,-0.235L0.975,-0.22L0.981,-0.204L0.986,-0.188L0.99,-0.172L0.993,-0.155L0.996,-0.139L0.998,-0.122L0.999,-0.106L0.999,-0.089L0.998,-0.072L0.998,-0.072L0.992,-0.088L0.987,-0.104L0.982,-0.119L0.977,-0.134L0.972,-0.149L0.966,-0.164L0.959,-0.179L0.953,-0.193L0.947,-0.208L0.941,-0.223L0.934,-0.237L0.927,-0.251L0.919,-0.265L0.911,-0.278L0.902,-0.291L0.893,-0.304L0.884,-0.317L0.874,-0.329L0.864,-0.341L0.853,-0.353L0.842,-0.364L0.831,-0.375L0.819,-0.386L0.807,-0.396L0.794,-0.406L0.782,-0.415L0.769,-0.424L0.755,-0.433L0.742,-0.441L0.728,-0.449L0.714,-0.456L0.699,-0.463L0.685,-0.469L0.67,-0.475L0.655,-0.48L0.64,-0.485L0.625,-0.489L0.61,-0.493L0.594,-0.496L0.579,-0.499L0.563,-0.501L0.547,-0.503L0.532,-0.504L0.516,-0.505L0.5,-0.505L0.484,-0.505L0.468,-0.504L0.453,-0.503L0.437,-0.501L0.421,-0.499L0.406,-0.496L0.39,-0.493L0.375,-0.489L0.36,-0.485L0.345,-0.48L0.33,-0.475L0.315,-0.469L0.301,-0.463L0.286,-0.456L0.272,-0.449L0.258,-0.441L0.245,-0.433L0.231,-0.424L0.218,-0.415L0.206,-0.406L0.193,-0.396L0.181,-0.386L0.169,-0.375L0.158,-0.364L0.147,-0.353L0.136,-0.341L0.126,-0.329L0.116,-0.317L0.107,-0.304L0.098,-0.291L0.089,-0.278L0.081,-0.265L0.073,-0.251L0.066,-0.237L0.059,-0.223L0.053,-0.208L0.047,-0.193L0.041,-0.179L0.034,-0.164L0.028,-0.149L0.023,-0.134L0.018,-0.119L0.013,-0.104L0.008,-0.088L0.002,-0.072Z" fill="#aee2fa"/>
<path d="M0.055,0a0.945,0.945 0 1,0 1.89,0a0.945,0.945 0 1,0 -1.89,0ZM0.119,0a0.881,0.881 0 1,0 1.762,0a0.881,0.881 0 1,0 -1.762,0Z" fill="#fbfa26" fill-rule="evenodd"/>
<path d="M-1.15,0.203C-1.125,0.205 -1.098,0.206 -1,0.215C-0.902,0.224 -0.703,0.242 -0.56,0.258C-0.418,0.274 -0.26,0.289 -0.145,0.309C-0.03,0.329 0.05,0.349 0.131,0.38C0.212,0.411 0.274,0.462 0.339,0.496C0.404,0.53 0.466,0.546 0.519,0.582C0.572,0.618 0.612,0.657 0.656,0.712C0.7,0.767 0.75,0.837 0.781,0.914C0.812,0.991 0.83,1.075 0.843,1.173C0.856,1.271 0.854,1.421 0.857,1.5C0.86,1.579 0.859,1.625 0.86,1.65L1.005,1.65C1.004,1.625 1.005,1.567 1.002,1.5C0.999,1.433 0.997,1.328 0.988,1.245C0.979,1.162 0.965,1.074 0.947,1C0.929,0.926 0.908,0.866 0.878,0.799C0.848,0.732 0.809,0.654 0.768,0.596C0.727,0.538 0.68,0.489 0.629,0.453C0.578,0.417 0.511,0.397 0.463,0.38C0.415,0.363 0.394,0.366 0.339,0.352C0.284,0.338 0.212,0.313 0.131,0.294C0.05,0.275 -0.03,0.256 -0.145,0.237C-0.26,0.218 -0.418,0.194 -0.56,0.179C-0.703,0.164 -0.902,0.156 -1,0.15C-1.098,0.144 -1.125,0.143 -1.15,0.142Z" fill="#8dfdb2"/>
<path d="M1.3,-1.65C1.306,-1.625 1.317,-1.562 1.334,-1.5C1.351,-1.438 1.378,-1.352 1.403,-1.276C1.428,-1.2 1.454,-1.123 1.486,-1.046C1.518,-0.969 1.555,-0.887 1.597,-0.815C1.639,-0.743 1.689,-0.672 1.735,-0.614C1.781,-0.556 1.831,-0.504 1.874,-0.469C1.917,-0.434 1.946,-0.425 1.992,-0.404C2.038,-0.383 2.124,-0.351 2.15,-0.34L2.15,-0.46C2.124,-0.483 2.045,-0.545 1.992,-0.599C1.939,-0.653 1.879,-0.716 1.832,-0.786C1.785,-0.856 1.745,-0.94 1.708,-1.017C1.671,-1.094 1.641,-1.167 1.611,-1.247C1.581,-1.328 1.548,-1.433 1.528,-1.5C1.508,-1.567 1.496,-1.625 1.49,-1.65Z" fill="#8dfdb2"/>
<path d="M0.671,0.888L0.648,0.879L0.625,0.869L0.602,0.858L0.58,0.846L0.558,0.834L0.536,0.822L0.515,0.808L0.494,0.795L0.473,0.78L0.453,0.765L0.433,0.75L0.413,0.734L0.394,0.718L0.375,0.701L0.357,0.683L0.339,0.665L0.322,0.647L0.305,0.628L0.289,0.609L0.273,0.589L0.258,0.569L0.243,0.548L0.229,0.527L0.215,0.506L0.202,0.484L0.189,0.462L0.177,0.44L0.166,0.417L0.155,0.394L0.145,0.371L0.135,0.348L0.127,0.324L0.119,0.3L0.111,0.276L0.104,0.251L0.098,0.226L0.093,0.202L0.088,0.177L0.083,0.152L0.08,0.127L0.077,0.101L0.074,0.076L0.073,0.051L0.072,0.025L0.072,0L0.072,-0.025L0.073,-0.051L0.074,-0.076L0.077,-0.101L0.08,-0.127L0.083,-0.152L0.088,-0.177L0.093,-0.202L0.098,-0.226L0.104,-0.251L0.111,-0.276L0.119,-0.3L0.127,-0.324L0.135,-0.348L0.145,-0.371L0.155,-0.394L0.166,-0.417L0.177,-0.44L0.189,-0.462L0.202,-0.484L0.215,-0.506L0.229,-0.527L0.243,-0.548L0.258,-0.569L0.273,-0.589L0.289,-0.609L0.305,-0.628L0.322,-0.647L0.339,-0.665L0.357,-0.683L0.375,-0.701L0.394,-0.718L0.413,-0.734L0.433,-0.75L0.453,-0.765L0.473,-0.78L0.494,-0.795L0.515,-0.808L0.536,-0.822L0.558,-0.834L0.58,-0.846L0.602,-0.858L0.625,-0.869L0.648,-0.879L0.671,-0.888L0.671,-0.888L0.649,-0.877L0.626,-0.866L0.604,-0.854L0.582,-0.842L0.561,-0.829L0.54,-0.816L0.519,-0.802L0.499,-0.787L0.479,-0.772L0.459,-0.757L0.44,-0.741L0.421,-0.725L0.403,-0.708L0.385,-0.69L0.368,-0.673L0.351,-0.655L0.334,-0.636L0.318,-0.617L0.303,-0.597L0.288,-0.578L0.274,-0.557L0.26,-0.537L0.246,-0.516L0.234,-0.495L0.221,-0.473L0.21,-0.451L0.198,-0.429L0.188,-0.407L0.178,-0.384L0.169,-0.361L0.16,-0.338L0.151,-0.315L0.143,-0.292L0.136,-0.268L0.129,-0.244L0.123,-0.22L0.118,-0.196L0.113,-0.172L0.109,-0.148L0.106,-0.123L0.103,-0.099L0.1,-0.074L0.099,-0.049L0.098,-0.025L0.098,0L0.098,0.025L0.099,0.049L0.1,0.074L0.103,0.099L0.106,0.123L0.109,0.148L0.113,0.172L0.118,0.196L0.123,0.22L0.129,0.244L0.136,0.268L0.143,0.292L0.151,0.315L0.16,0.338L0.169,0.361L0.178,0.384L0.188,0.407L0.198,0.429L0.21,0.451L0.221,0.473L0.234,0.495L0.246,0.516L0.26,0.537L0.274,0.557L0.288,0.578L0.303,0.597L0.318,0.617L0.334,0.636L0.351,0.655L0.368,0.673L0.385,0.69L0.403,0.708L0.421,0.725L0.44,0.741L0.459,0.757L0.479,0.772L0.499,0.787L0.519,0.802L0.54,0.816L0.561,0.829L0.582,0.842L0.604,0.854L0.626,0.866L0.649,0.877L0.671,0.888Z" fill="#ff9a05"/>
<path d="M-0.381,0a0.381,0.381 0 1,0 0.762,0a0.381,0.381 0 1,0 -0.762,0ZM-0.355,0a0.355,0.355 0 1,0 0.71,0a0.355,0.355 0 1,0 -0.71,0Z" fill="#33c64c" fill-rule="evenodd"/>
<path d="M-1.1,0.839L-1,0.799L0.138,0.353L1,0.004L2,-0.369L2.1,-0.406L2.1,-0.447L2,-0.404L1,-0.004L0.138,0.321L-1,0.755L-1.1,0.793Z" fill="#5fadff"/>
<path d="M1,0L0.34,1.65L0.373,1.65ZM1,0L1.612,-1.65L1.641,-1.65Z" fill="#e4e4e4" stroke="#9a9a9a" stroke-width="0.8" vector-effect="non-scaling-stroke"/>
<path d="M0,0L0.713,1.8L0.797,1.8Z" fill="none" stroke="#e8e5bf" stroke-width="0.5" stroke-opacity="0.85" vector-effect="non-scaling-stroke"/>
<path d="M0,0L-0.702,-1.8L-0.805,-1.8Z" fill="none" stroke="#e8e5bf" stroke-width="0.5" stroke-opacity="0.85" vector-effect="non-scaling-stroke"/>
<path d="M0.998,0.024L0.999,0.041L0.999,0.058L0.998,0.074L0.996,0.091L0.993,0.107L0.99,0.124L0.986,0.14L0.981,0.156L0.975,0.171L0.968,0.187L0.961,0.202L0.953,0.217L0.945,0.231L0.936,0.246L0.927,0.26L0.917,0.274L0.907,0.287L0.897,0.3L0.886,0.313L0.874,0.325L0.863,0.337L0.851,0.349L0.838,0.36L0.825,0.371L0.812,0.381L0.799,0.391L0.785,0.401L0.771,0.41L0.756,0.418L0.742,0.427L0.727,0.434L0.712,0.441L0.696,0.448L0.681,0.454L0.665,0.46L0.649,0.465L0.633,0.469L0.616,0.473L0.6,0.477L0.583,0.48L0.567,0.482L0.55,0.484L0.534,0.486L0.517,0.487L0.5,0.487L0.483,0.487L0.466,0.486L0.45,0.484L0.433,0.482L0.417,0.48L0.4,0.477L0.384,0.473L0.367,0.469L0.351,0.465L0.335,0.46L0.319,0.454L0.304,0.448L0.288,0.441L0.273,0.434L0.258,0.427L0.244,0.418L0.229,0.41L0.215,0.401L0.201,0.391L0.188,0.381L0.175,0.371L0.162,0.36L0.149,0.349L0.137,0.337L0.126,0.325L0.114,0.313L0.103,0.3L0.093,0.287L0.083,0.274L0.073,0.26L0.064,0.246L0.055,0.231L0.047,0.217L0.039,0.202L0.032,0.187L0.025,0.171L0.019,0.156L0.014,0.14L0.01,0.124L0.007,0.107L0.004,0.091L0.002,0.074L0.001,0.058L0.001,0.041L0.002,0.024L0.002,0.024L0.007,0.04L0.012,0.056L0.017,0.071L0.022,0.087L0.027,0.102L0.033,0.117L0.039,0.131L0.045,0.146L0.051,0.161L0.058,0.175L0.064,0.189L0.072,0.204L0.08,0.217L0.088,0.231L0.096,0.244L0.106,0.257L0.115,0.27L0.125,0.282L0.135,0.294L0.146,0.306L0.157,0.317L0.168,0.328L0.18,0.339L0.192,0.349L0.205,0.359L0.218,0.368L0.231,0.377L0.244,0.386L0.258,0.394L0.271,0.402L0.286,0.409L0.3,0.416L0.314,0.422L0.329,0.428L0.344,0.433L0.359,0.438L0.375,0.442L0.39,0.446L0.405,0.45L0.421,0.452L0.437,0.455L0.452,0.456L0.468,0.458L0.484,0.459L0.5,0.459L0.516,0.459L0.532,0.458L0.548,0.456L0.563,0.455L0.579,0.452L0.595,0.45L0.61,0.446L0.625,0.442L0.641,0.438L0.656,0.433L0.671,0.428L0.686,0.422L0.7,0.416L0.714,0.409L0.729,0.402L0.742,0.394L0.756,0.386L0.769,0.377L0.782,0.368L0.795,0.359L0.808,0.349L0.82,0.339L0.832,0.328L0.843,0.317L0.854,0.306L0.865,0.294L0.875,0.282L0.885,0.27L0.894,0.257L0.904,0.244L0.912,0.231L0.92,0.217L0.928,0.204L0.936,0.189L0.942,0.175L0.949,0.161L0.955,0.146L0.961,0.131L0.967,0.117L0.973,0.102L0.978,0.087L0.983,0.071L0.988,0.056L0.993,0.04L0.998,0.024Z" fill="none" stroke="#aee2fa" stroke-width="0.5" stroke-opacity="0.85" vector-effect="non-scaling-stroke"/>
<path d="M0.002,-0.072L0.001,-0.089L0.001,-0.106L0.002,-0.122L0.004,-0.139L0.007,-0.155L0.01,-0.172L0.014,-0.188L0.019,-0.204L0.025,-0.22L0.032,-0.235L0.039,-0.25L0.047,-0.265L0.055,-0.28L0.064,-0.294L0.073,-0.308L0.082,-0.322L0.092,-0.335L0.103,-0.349L0.114,-0.361L0.125,-0.374L0.137,-0.386L0.149,-0.397L0.161,-0.409L0.174,-0.419L0.187,-0.43L0.201,-0.44L0.215,-0.449L0.229,-0.458L0.243,-0.467L0.258,-0.475L0.273,-0.483L0.288,-0.49L0.304,-0.497L0.319,-0.503L0.335,-0.508L0.351,-0.513L0.367,-0.518L0.383,-0.522L0.4,-0.526L0.416,-0.529L0.433,-0.531L0.45,-0.533L0.466,-0.534L0.483,-0.535L0.5,-0.535L0.517,-0.535L0.534,-0.534L0.55,-0.533L0.567,-0.531L0.584,-0.529L0.6,-0.526L0.617,-0.522L0.633,-0.518L0.649,-0.513L0.665,-0.508L0.681,-0.503L0.696,-0.497L0.712,-0.49L0.727,-0.483L0.742,-0.475L0.757,-0.467L0.771,-0.458L0.785,-0.449L0.799,-0.44L0.813,-0.43L0.826,-0.419L0.839,-0.409L0.851,-0.397L0.863,-0.386L0.875,-0.374L0.886,-0.361L0.897,-0.349L0.908,-0.335L0.918,-0.322L0.927,-0.308L0.936,-0.294L0.945,-0.28L0.953,-0.265L0.961,-0.25L0.968,-0.235L0.975,-0.22L0.981,-0.204L0.986,-0.188L0.99,-0.172L0.993,-0.155L0.996,-0.139L0.998,-0.122L0.999,-0.106L0.999,-0.089L0.998,-0.072L0.998,-0.072L0.992,-0.088L0.987,-0.104L0.982,-0.119L0.977,-0.134L0.972,-0.149L0.966,-0.164L0.959,-0.179L0.953,-0.193L0.947,-0.208L0.941,-0.223L0.934,-0.237L0.927,-0.251L0.919,-0.265L0.911,-0.278L0.902,-0.291L0.893,-0.304L0.884,-0.317L0.874,-0.329L0.864,-0.341L0.853,-0.353L0.842,-0.364L0.831,-0.375L0.819,-0.386L0.807,-0.396L0.794,-0.406L0.782,-0.415L0.769,-0.424L0.755,-0.433L0.742,-0.441L0.728,-0.449L0.714,-0.456L0.699,-0.463L0.685,-0.469L0.67,-0.475L0.655,-0.48L0.64,-0.485L0.625,-0.489L0.61,-0.493L0.594,-0.496L0.579,-0.499L0.563,-0.501L0.547,-0.503L0.532,-0.504L0.516,-0.505L0.5,-0.505L0.484,-0.505L0.468,-0.504L0.453,-0.503L0.437,-0.501L0.421,-0.499L0.406,-0.496L0.39,-0.493L0.375,-0.489L0.36,-0.485L0.345,-0.48L0.33,-0.475L0.315,-0.469L0.301,-0.463L0.286,-0.456L0.272,-0.449L0.258,-0.441L0.245,-0.433L0.231,-0.424L0.218,-0.415L0.206,-0.406L0.193,-0.396L0.181,-0.386L0.169,-0.375L0.158,-0.364L0.147,-0.353L0.136,-0.341L0.126,-0.329L0.116,-0.317L0.107,-0.304L0.098,-0.291L0.089,-0.278L0.081,-0.265L0.073,-0.251L0.066,-0.237L0.059,-0.223L0.053,-0.208L0.047,-0.193L0.041,-0.179L0.034,-0.164L0.028,-0.149L0.023,-0.134L0.018,-0.119L0.013,-0.104L0.008,-0.088L0.002,-0.072Z" fill="none" stroke="#aee2fa" stroke-width="0.5" stroke-opacity="0.85" vector-effect="non-scaling-stroke"/>
<path d="M0.055,0a0.945,0.945 0 1,0 1.89,0a0.945,0.945 0 1,0 -1.89,0ZM0.119,0a0.881,0.881 0 1,0 1.762,0a0.881,0.881 0 1,0 -1.762,0Z" fill="none" stroke="#f4f43c" stroke-width="0.5" stroke-opacity="0.85" vector-effect="non-scaling-stroke" fill-rule="evenodd"/>
<path d="M-1.15,0.203C-1.125,0.205 -1.098,0.206 -1,0.215C-0.902,0.224 -0.703,0.242 -0.56,0.258C-0.418,0.274 -0.26,0.289 -0.145,0.309C-0.03,0.329 0.05,0.349 0.131,0.38C0.212,0.411 0.274,0.462 0.339,0.496C0.404,0.53 0.466,0.546 0.519,0.582C0.572,0.618 0.612,0.657 0.656,0.712C0.7,0.767 0.75,0.837 0.781,0.914C0.812,0.991 0.83,1.075 0.843,1.173C0.856,1.271 0.854,1.421 0.857,1.5C0.86,1.579 0.859,1.625 0.86,1.65L1.005,1.65C1.004,1.625 1.005,1.567 1.002,1.5C0.999,1.433 0.997,1.328 0.988,1.245C0.979,1.162 0.965,1.074 0.947,1C0.929,0.926 0.908,0.866 0.878,0.799C0.848,0.732 0.809,0.654 0.768,0.596C0.727,0.538 0.68,0.489 0.629,0.453C0.578,0.417 0.511,0.397 0.463,0.38C0.415,0.363 0.394,0.366 0.339,0.352C0.284,0.338 0.212,0.313 0.131,0.294C0.05,0.275 -0.03,0.256 -0.145,0.237C-0.26,0.218 -0.418,0.194 -0.56,0.179C-0.703,0.164 -0.902,0.156 -1,0.15C-1.098,0.144 -1.125,0.143 -1.15,0.142Z" fill="none" stroke="#a6f7c0" stroke-width="0.5" stroke-opacity="0.85" vector-effect="non-scaling-stroke"/>
<path d="M1.3,-1.65C1.306,-1.625 1.317,-1.562 1.334,-1.5C1.351,-1.438 1.378,-1.352 1.403,-1.276C1.428,-1.2 1.454,-1.123 1.486,-1.046C1.518,-0.969 1.555,-0.887 1.597,-0.815C1.639,-0.743 1.689,-0.672 1.735,-0.614C1.781,-0.556 1.831,-0.504 1.874,-0.469C1.917,-0.434 1.946,-0.425 1.992,-0.404C2.038,-0.383 2.124,-0.351 2.15,-0.34L2.15,-0.46C2.124,-0.483 2.045,-0.545 1.992,-0.599C1.939,-0.653 1.879,-0.716 1.832,-0.786C1.785,-0.856 1.745,-0.94 1.708,-1.017C1.671,-1.094 1.641,-1.167 1.611,-1.247C1.581,-1.328 1.548,-1.433 1.528,-1.5C1.508,-1.567 1.496,-1.625 1.49,-1.65Z" fill="none" stroke="#a6f7c0" stroke-width="0.5" stroke-opacity="0.85" vector-effect="non-scaling-stroke"/>
<path d="M0.671,0.888L0.648,0.879L0.625,0.869L0.602,0.858L0.58,0.846L0.558,0.834L0.536,0.822L0.515,0.808L0.494,0.795L0.473,0.78L0.453,0.765L0.433,0.75L0.413,0.734L0.394,0.718L0.375,0.701L0.357,0.683L0.339,0.665L0.322,0.647L0.305,0.628L0.289,0.609L0.273,0.589L0.258,0.569L0.243,0.548L0.229,0.527L0.215,0.506L0.202,0.484L0.189,0.462L0.177,0.44L0.166,0.417L0.155,0.394L0.145,0.371L0.135,0.348L0.127,0.324L0.119,0.3L0.111,0.276L0.104,0.251L0.098,0.226L0.093,0.202L0.088,0.177L0.083,0.152L0.08,0.127L0.077,0.101L0.074,0.076L0.073,0.051L0.072,0.025L0.072,0L0.072,-0.025L0.073,-0.051L0.074,-0.076L0.077,-0.101L0.08,-0.127L0.083,-0.152L0.088,-0.177L0.093,-0.202L0.098,-0.226L0.104,-0.251L0.111,-0.276L0.119,-0.3L0.127,-0.324L0.135,-0.348L0.145,-0.371L0.155,-0.394L0.166,-0.417L0.177,-0.44L0.189,-0.462L0.202,-0.484L0.215,-0.506L0.229,-0.527L0.243,-0.548L0.258,-0.569L0.273,-0.589L0.289,-0.609L0.305,-0.628L0.322,-0.647L0.339,-0.665L0.357,-0.683L0.375,-0.701L0.394,-0.718L0.413,-0.734L0.433,-0.75L0.453,-0.765L0.473,-0.78L0.494,-0.795L0.515,-0.808L0.536,-0.822L0.558,-0.834L0.58,-0.846L0.602,-0.858L0.625,-0.869L0.648,-0.879L0.671,-0.888L0.671,-0.888L0.649,-0.877L0.626,-0.866L0.604,-0.854L0.582,-0.842L0.561,-0.829L0.54,-0.816L0.519,-0.802L0.499,-0.787L0.479,-0.772L0.459,-0.757L0.44,-0.741L0.421,-0.725L0.403,-0.708L0.385,-0.69L0.368,-0.673L0.351,-0.655L0.334,-0.636L0.318,-0.617L0.303,-0.597L0.288,-0.578L0.274,-0.557L0.26,-0.537L0.246,-0.516L0.234,-0.495L0.221,-0.473L0.21,-0.451L0.198,-0.429L0.188,-0.407L0.178,-0.384L0.169,-0.361L0.16,-0.338L0.151,-0.315L0.143,-0.292L0.136,-0.268L0.129,-0.244L0.123,-0.22L0.118,-0.196L0.113,-0.172L0.109,-0.148L0.106,-0.123L0.103,-0.099L0.1,-0.074L0.099,-0.049L0.098,-0.025L0.098,0L0.098,0.025L0.099,0.049L0.1,0.074L0.103,0.099L0.106,0.123L0.109,0.148L0.113,0.172L0.118,0.196L0.123,0.22L0.129,0.244L0.136,0.268L0.143,0.292L0.151,0.315L0.16,0.338L0.169,0.361L0.178,0.384L0.188,0.407L0.198,0.429L0.21,0.451L0.221,0.473L0.234,0.495L0.246,0.516L0.26,0.537L0.274,0.557L0.288,0.578L0.303,0.597L0.318,0.617L0.334,0.636L0.351,0.655L0.368,0.673L0.385,0.69L0.403,0.708L0.421,0.725L0.44,0.741L0.459,0.757L0.479,0.772L0.499,0.787L0.519,0.802L0.54,0.816L0.561,0.829L0.582,0.842L0.604,0.854L0.626,0.866L0.649,0.877L0.671,0.888Z" fill="none" stroke="#f5a032" stroke-width="0.5" stroke-opacity="0.85" vector-effect="non-scaling-stroke"/>
</g>
<path d="M673.7,975.7H1035.2M794.2,802.15V1149.25" stroke="#1a1a1a" stroke-width="0.9" stroke-dasharray="2,2.4" fill="none"/>
<path d="M794.2,975.7L810.829,936.709L914.7,975.7Z" fill="none" stroke="#000" stroke-width="1.45" stroke-linejoin="miter"/>
<path d="M812.2,975.7A18,18 0 0,0 801.261,959.143" fill="none" stroke="#000" stroke-width="0.8"/>
<path d="M889.2,975.7A25.5,25.5 0 0,1 890.827,966.738" fill="none" stroke="#000" stroke-width="0.8"/>
<path d="M804.16,952.346A17,17 0 0,0 826.745,942.683" fill="none" stroke="#000" stroke-width="0.8"/>
<path d="M673.7,1149.25v-10M673.7,802.15v10M685.75,1149.25v-5M685.75,802.15v5M697.8,1149.25v-5M697.8,802.15v5M709.85,1149.25v-5M709.85,802.15v5M721.9,1149.25v-5M721.9,802.15v5M733.95,1149.25v-10M733.95,802.15v10M746,1149.25v-5M746,802.15v5M758.05,1149.25v-5M758.05,802.15v5M770.1,1149.25v-5M770.1,802.15v5M782.15,1149.25v-5M782.15,802.15v5M794.2,1149.25v-10M794.2,802.15v10M806.25,1149.25v-5M806.25,802.15v5M818.3,1149.25v-5M818.3,802.15v5M830.35,1149.25v-5M830.35,802.15v5M842.4,1149.25v-5M842.4,802.15v5M854.45,1149.25v-10M854.45,802.15v10M866.5,1149.25v-5M866.5,802.15v5M878.55,1149.25v-5M878.55,802.15v5M890.6,1149.25v-5M890.6,802.15v5M902.65,1149.25v-5M902.65,802.15v5M914.7,1149.25v-10M914.7,802.15v10M926.75,1149.25v-5M926.75,802.15v5M938.8,1149.25v-5M938.8,802.15v5M950.85,1149.25v-5M950.85,802.15v5M962.9,1149.25v-5M962.9,802.15v5M974.95,1149.25v-10M974.95,802.15v10M987,1149.25v-5M987,802.15v5M999.05,1149.25v-5M999.05,802.15v5M1011.1,1149.25v-5M1011.1,802.15v5M1023.15,1149.25v-5M1023.15,802.15v5M1035.2,1149.25v-10M1035.2,802.15v10M673.7,1149.25h10M1035.2,1149.25h-10M673.7,1137.68h5M1035.2,1137.68h-5M673.7,1126.11h5M1035.2,1126.11h-5M673.7,1114.54h5M1035.2,1114.54h-5M673.7,1102.97h5M1035.2,1102.97h-5M673.7,1091.4h10M1035.2,1091.4h-10M673.7,1079.83h5M1035.2,1079.83h-5M673.7,1068.26h5M1035.2,1068.26h-5M673.7,1056.69h5M1035.2,1056.69h-5M673.7,1045.12h5M1035.2,1045.12h-5M673.7,1033.55h10M1035.2,1033.55h-10M673.7,1021.98h5M1035.2,1021.98h-5M673.7,1010.41h5M1035.2,1010.41h-5M673.7,998.84h5M1035.2,998.84h-5M673.7,987.27h5M1035.2,987.27h-5M673.7,975.7h10M1035.2,975.7h-10M673.7,964.13h5M1035.2,964.13h-5M673.7,952.56h5M1035.2,952.56h-5M673.7,940.99h5M1035.2,940.99h-5M673.7,929.42h5M1035.2,929.42h-5M673.7,917.85h10M1035.2,917.85h-10M673.7,906.28h5M1035.2,906.28h-5M673.7,894.71h5M1035.2,894.71h-5M673.7,883.14h5M1035.2,883.14h-5M673.7,871.57h5M1035.2,871.57h-5M673.7,860h10M1035.2,860h-10M673.7,848.43h5M1035.2,848.43h-5M673.7,836.86h5M1035.2,836.86h-5M673.7,825.29h5M1035.2,825.29h-5M673.7,813.72h5M1035.2,813.72h-5M673.7,802.15h10M1035.2,802.15h-10" stroke="#444" stroke-width="1" fill="none"/>
<rect x="673.7" y="802.15" width="361.5" height="347.1" fill="none" stroke="#666" stroke-width="1.2"/>
<text x="671.9" y="1166.85" font-size="13.1" text-anchor="middle" font-weight="bold">-1.0</text>
<text x="732.15" y="1166.85" font-size="13.1" text-anchor="middle" font-weight="bold">-0.5</text>
<text x="793.6" y="1166.85" font-size="13.1" text-anchor="middle" font-weight="bold">0.0</text>
<text x="853.85" y="1166.85" font-size="13.1" text-anchor="middle" font-weight="bold">0.5</text>
<text x="914.1" y="1166.85" font-size="13.1" text-anchor="middle" font-weight="bold">1.0</text>
<text x="974.35" y="1166.85" font-size="13.1" text-anchor="middle" font-weight="bold">1.5</text>
<text x="1034.6" y="1166.85" font-size="13.1" text-anchor="middle" font-weight="bold">2.0</text>
<text x="666.7" y="1153.95" font-size="13.1" text-anchor="end" font-weight="bold">-1.5</text>
<text x="666.7" y="1096.1" font-size="13.1" text-anchor="end" font-weight="bold">-1.0</text>
<text x="666.7" y="1038.25" font-size="13.1" text-anchor="end" font-weight="bold">-0.5</text>
<text x="666.7" y="980.4" font-size="13.1" text-anchor="end" font-weight="bold">0.0</text>
<text x="666.7" y="922.55" font-size="13.1" text-anchor="end" font-weight="bold">0.5</text>
<text x="666.7" y="864.7" font-size="13.1" text-anchor="end" font-weight="bold">1.0</text>
<text x="666.7" y="806.85" font-size="13.1" text-anchor="end" font-weight="bold">1.5</text>
<g transform="translate(630.1,975.2) rotate(-90)"><text x="0" y="0" font-size="21" text-anchor="middle">η</text><path d="M-5.8,-13.2h11.6" stroke="#000" stroke-width="1.2"/></g>
<text x="854.05" y="1192.25" font-size="21" text-anchor="middle">ρ</text>
<path d="M848.15,1179.15h11.4" stroke="#000" stroke-width="1.2"/>
<g transform="translate(691,1098.8)">
<rect x="0" y="0" width="55.3" height="23" fill="#0000f5"/>
<rect x="1" y="14" width="54.3" height="7.7" fill="#fff"/>
<rect x="0" y="23" width="55.3" height="10" fill="#c5c5ee"/>
<text x="25.45" y="12.5" font-size="15.8" text-anchor="middle" font-style="italic" fill="#fff">CKM</text>
<text x="17.2" y="21.1" font-size="9.2" font-weight="bold" fill="#0000f5" letter-spacing="2.75">fitter</text>
<text x="26.95" y="31.1" font-size="7.7" text-anchor="middle" fill="#2a2af0">Phase II</text>
</g>
<rect x="684.3" y="812.2" width="108" height="9.6" fill="#ededed" stroke="#c4c4c4" stroke-width="0.7"/><text x="738.3" y="819.7" font-size="7.8" text-anchor="middle" fill="#222">excluded area has CL &gt; 0.95</text>
<g transform="translate(841.2,803.5) rotate(69.5)"><text x="0" y="0" font-size="7.6" fill="#222">excluded at CL &gt; 0.95</text></g>
<text x="828.8" y="844" font-size="18" font-family='"Liberation Serif", "Noto Serif CJK SC", serif' text-anchor="middle">γ</text>
<text x="686.3" y="899" font-size="17.2">sin 2<tspan font-family='"Liberation Serif", "Noto Serif CJK SC", serif' font-size="18">β</tspan></text>
<text x="688" y="951.3" font-size="16"><tspan font-family='"Liberation Serif", "Noto Serif CJK SC", serif' font-size="20">ε</tspan><tspan font-size="11.8" dy="4">K</tspan><tspan dy="-4" font-size="1">&#8203;</tspan></text>
<text x="743" y="1021" font-size="19">|<tspan dx="1.2">V</tspan><tspan font-size="11.5" dy="4">ub</tspan><tspan dy="-4" font-size="1">&#8203;</tspan><tspan dx="1">|</tspan></text>
<text x="897.2" y="1022.3" font-size="21" font-family='"Liberation Serif", "Noto Serif CJK SC", serif' text-anchor="middle">α</text>
<text x="757" y="1095" font-size="18" font-family='"Liberation Serif", "Noto Serif CJK SC", serif' text-anchor="middle">γ</text>
<text x="990.5" y="1088.5" font-size="16"><tspan font-family='"Liberation Serif", "Noto Serif CJK SC", serif' font-size="20">ε</tspan><tspan font-size="11.8" dy="4">K</tspan><tspan dy="-4" font-size="1">&#8203;</tspan></text>
<text x="813.5" y="1074" font-size="15.8">Δm<tspan font-size="11" dy="4">d</tspan><tspan dy="-4" font-size="1">&#8203;</tspan> &amp; Δm<tspan font-size="11" dy="4">s</tspan><tspan dy="-4" font-size="1">&#8203;</tspan></text>
<text x="977.5" y="934.5" font-size="15.8">Δm<tspan font-size="11" dy="4">d</tspan><tspan dy="-4" font-size="1">&#8203;</tspan></text>
<text x="951.3" y="1117.5" font-size="8.4" fill="#222">sol. w/ cos 2β &lt; 0</text><text x="951.3" y="1129.3" font-size="8.4" fill="#222">(excl. at CL &gt; 0.95)</text>
<text x="804.5" y="972.5" font-size="10.5" font-family='"Liberation Serif", "Noto Serif CJK SC", serif' text-anchor="middle">γ</text>
<text x="815.5" y="950" font-size="10.5" font-family='"Liberation Serif", "Noto Serif CJK SC", serif' text-anchor="middle">α</text>
<text x="875" y="971.5" font-size="10.5" font-family='"Liberation Serif", "Noto Serif CJK SC", serif' text-anchor="middle">β</text>
</g>
</svg>
</div>
</body>
</html>
